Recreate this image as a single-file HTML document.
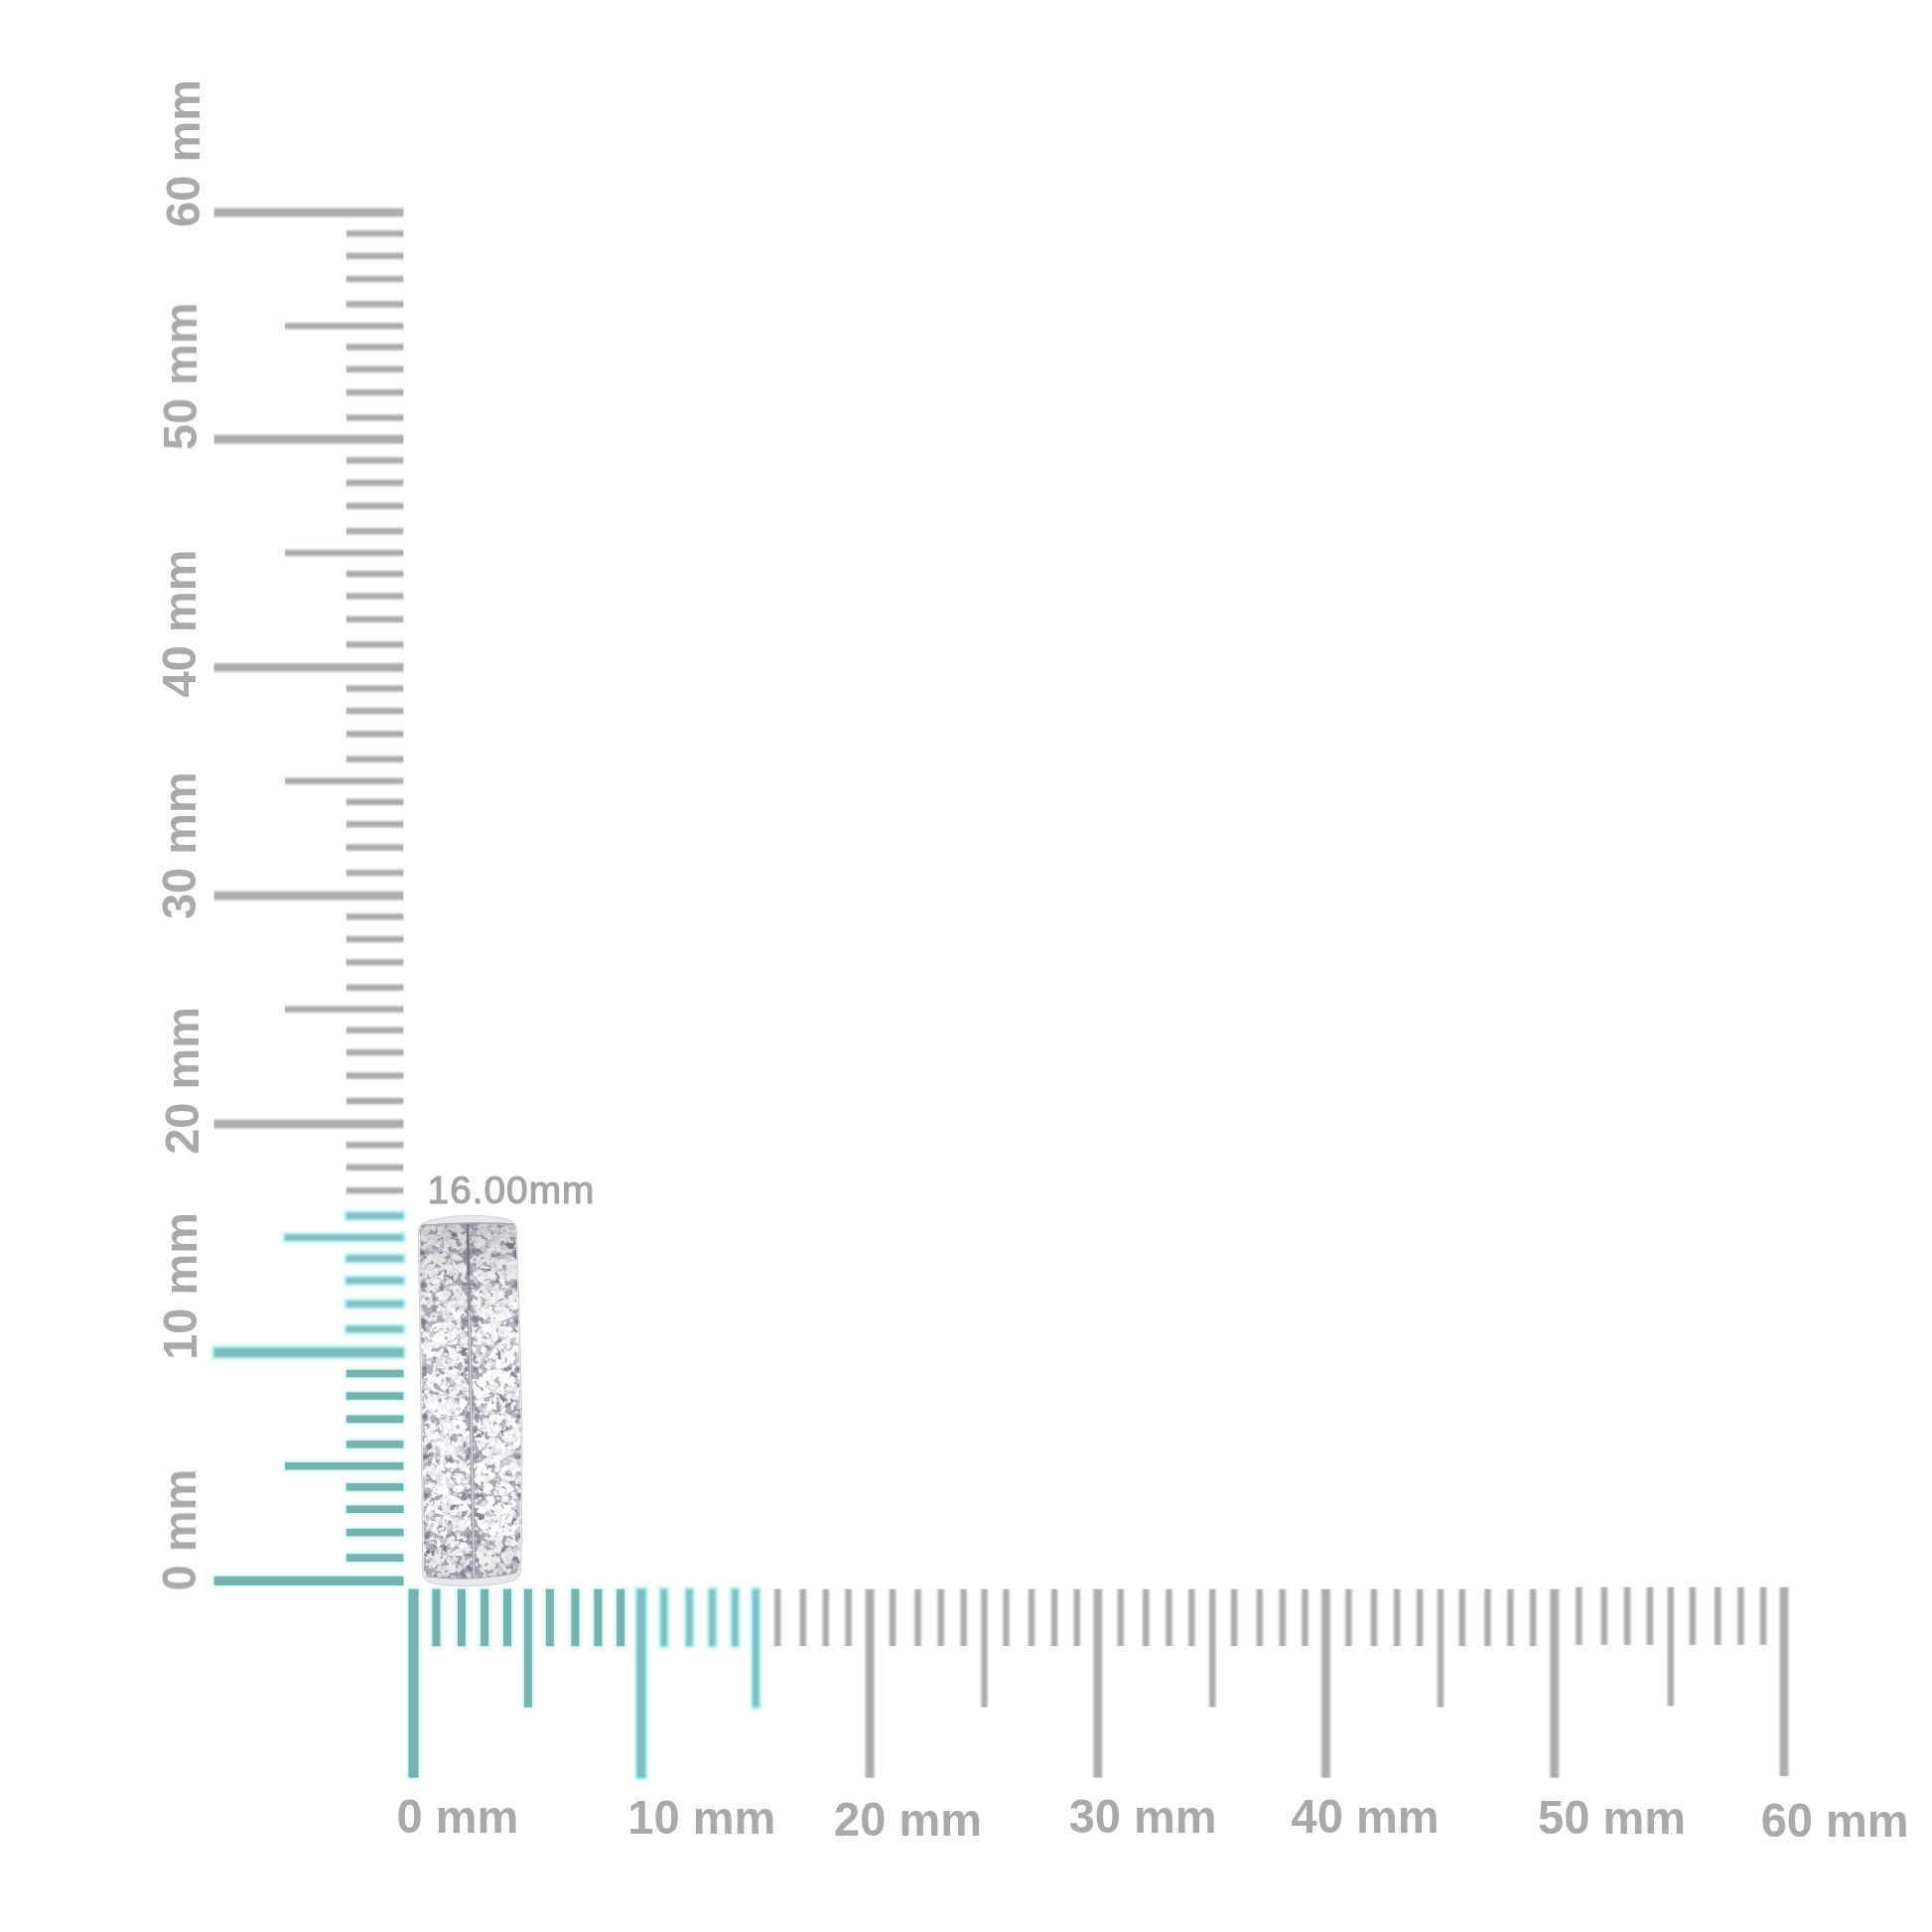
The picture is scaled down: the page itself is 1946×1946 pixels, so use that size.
<!DOCTYPE html>
<html><head><meta charset="utf-8"><title>16.00mm size guide</title>
<style>html,body{margin:0;padding:0;background:#fff}body{width:1946px;height:1946px;overflow:hidden;position:relative}svg{position:absolute;left:0;top:0;display:block}text{font-family:"Liberation Sans",sans-serif}</style></head><body>
<svg width="1946" height="1946" viewBox="0 0 1946 1946">
<defs>
<filter id="softv" x="-5%" y="-5%" width="110%" height="110%"><feGaussianBlur stdDeviation="0.6 1.0"/></filter>
<filter id="softh" x="-5%" y="-5%" width="110%" height="110%"><feGaussianBlur stdDeviation="1.0 0.6"/></filter>
<filter id="soft2" x="-5%" y="-5%" width="110%" height="110%"><feGaussianBlur stdDeviation="0.6"/></filter>
<filter id="soft3" x="-5%" y="-5%" width="110%" height="110%"><feGaussianBlur stdDeviation="0.95"/></filter>
<filter id="halo" x="-5%" y="-5%" width="110%" height="110%"><feGaussianBlur stdDeviation="1.5"/></filter>
<filter id="tsoft" x="-5%" y="-5%" width="110%" height="110%"><feGaussianBlur stdDeviation="0.55"/></filter>
<clipPath id="pclip"><path d="M 421.3 1242 Q 421.2 1234.4 427 1231.8 C 445 1222.5 500 1222.5 514 1229.6 Q 520 1231 520.5 1239 Q 523.5 1330 525.6 1420 Q 526.0 1520 524.8 1580 Q 524.4 1589 518 1591.5 C 500 1598.6 455 1598.6 436 1595 Q 427 1594 425.8 1585 Q 424.4 1420 421.3 1242 Z"/></clipPath>
<clipPath id="iclip"><path d="M 422.6 1240 Q 422.8 1234.6 428 1233.6 Q 472 1230.2 513 1232.4 Q 519 1233 519.4 1239 Q 522.4 1330 524.4 1420 Q 524.8 1520 523.6 1578 Q 523.2 1583.4 518 1584.6 Q 478 1593.6 436 1588.4 Q 428 1587.4 427.2 1582 Q 425.6 1420 422.6 1240 Z"/></clipPath>
<linearGradient id="pbase" x1="0" y1="0" x2="1" y2="0"><stop offset="0" stop-color="#e4e4e9"/><stop offset="0.06" stop-color="#b9b9c3"/><stop offset="0.5" stop-color="#adadb8"/><stop offset="0.94" stop-color="#b9b9c3"/><stop offset="1" stop-color="#e6e6ea"/></linearGradient>
<filter id="sparkle" x="0" y="0" width="100%" height="100%" color-interpolation-filters="sRGB"><feTurbulence type="fractalNoise" baseFrequency="0.2 0.19" numOctaves="2" seed="29" result="n2"/><feColorMatrix in="n2" type="matrix" values="0 0 0 0 0  0 0 0 0 0  0 0 0 0 0  0 2.8 0 0 -0.9" result="a2"/><feComponentTransfer in="a2" result="b2"><feFuncA type="discrete" tableValues="0 0 0 0 0 0.15 0.4 0.7 0.85 0.85"/></feComponentTransfer><feFlood flood-color="#ffffff" result="white"/><feComposite in="white" in2="b2" operator="in" result="lightspots"/><feTurbulence type="fractalNoise" baseFrequency="0.17 0.16" numOctaves="2" seed="5" result="n"/><feColorMatrix in="n" type="matrix" values="0 0 0 0 0  0 0 0 0 0  0 0 0 0 0  2.8 0 0 0 -0.9" result="a"/><feComponentTransfer in="a" result="b"><feFuncA type="discrete" tableValues="0.5 0.3 0.15 0.05 0 0 0 0 0 0"/></feComponentTransfer><feFlood flood-color="#666671" result="dark"/><feComposite in="dark" in2="b" operator="in" result="darkspots"/><feMerge><feMergeNode in="SourceGraphic"/><feMergeNode in="darkspots"/><feMergeNode in="lightspots"/></feMerge><feGaussianBlur stdDeviation="0.75"/></filter>
<linearGradient id="pshade" x1="0" y1="0" x2="0" y2="1"><stop offset="0" stop-color="#50505c" stop-opacity="0.26"/><stop offset="0.16" stop-color="#50505c" stop-opacity="0.08"/><stop offset="0.3" stop-color="#50505c" stop-opacity="0"/><stop offset="0.86" stop-color="#50505c" stop-opacity="0"/><stop offset="1" stop-color="#50505c" stop-opacity="0.14"/></linearGradient>
<filter id="pblur" x="-10%" y="-5%" width="120%" height="110%"><feGaussianBlur stdDeviation="0.7"/></filter>
<filter id="pblur2" x="-30%" y="-30%" width="160%" height="160%"><feGaussianBlur stdDeviation="1.2"/></filter>
</defs>
<rect width="1946" height="1946" fill="#ffffff"/>
<g filter="url(#softv)">
<rect x="348.8" y="1196.0" width="57.6" height="6.4" fill="#acacac"/>
<rect x="348.8" y="1172.7" width="57.6" height="6.4" fill="#acacac"/>
<rect x="348.8" y="1150.1" width="57.6" height="6.4" fill="#acacac"/>
<rect x="215.6" y="1127.7" width="190.8" height="8.8" fill="#acacac"/>
<rect x="348.8" y="1105.8" width="57.6" height="6.4" fill="#acacac"/>
<rect x="348.8" y="1080.3" width="57.6" height="6.4" fill="#acacac"/>
<rect x="348.8" y="1056.9" width="57.6" height="6.4" fill="#acacac"/>
<rect x="348.8" y="1034.5" width="57.6" height="6.4" fill="#acacac"/>
<rect x="287.1" y="1013.4" width="119.3" height="6.4" fill="#acacac"/>
<rect x="348.8" y="991.5" width="57.6" height="6.4" fill="#acacac"/>
<rect x="348.8" y="966.1" width="57.6" height="6.4" fill="#acacac"/>
<rect x="348.8" y="942.8" width="57.6" height="6.4" fill="#acacac"/>
<rect x="348.8" y="920.2" width="57.6" height="6.4" fill="#acacac"/>
<rect x="215.6" y="897.8" width="190.8" height="8.8" fill="#acacac"/>
<rect x="348.8" y="875.9" width="57.6" height="6.4" fill="#acacac"/>
<rect x="348.8" y="850.4" width="57.6" height="6.4" fill="#acacac"/>
<rect x="348.8" y="827.0" width="57.6" height="6.4" fill="#acacac"/>
<rect x="348.8" y="804.6" width="57.6" height="6.4" fill="#acacac"/>
<rect x="287.1" y="783.5" width="119.3" height="6.4" fill="#acacac"/>
<rect x="348.8" y="761.6" width="57.6" height="6.4" fill="#acacac"/>
<rect x="348.8" y="736.2" width="57.6" height="6.4" fill="#acacac"/>
<rect x="348.8" y="712.9" width="57.6" height="6.4" fill="#acacac"/>
<rect x="348.8" y="690.3" width="57.6" height="6.4" fill="#acacac"/>
<rect x="215.6" y="667.9" width="190.8" height="8.8" fill="#acacac"/>
<rect x="348.8" y="646.1" width="57.6" height="6.4" fill="#acacac"/>
<rect x="348.8" y="620.6" width="57.6" height="6.4" fill="#acacac"/>
<rect x="348.8" y="597.2" width="57.6" height="6.4" fill="#acacac"/>
<rect x="348.8" y="574.8" width="57.6" height="6.4" fill="#acacac"/>
<rect x="287.1" y="553.7" width="119.3" height="6.4" fill="#acacac"/>
<rect x="348.8" y="531.8" width="57.6" height="6.4" fill="#acacac"/>
<rect x="348.8" y="506.4" width="57.6" height="6.4" fill="#acacac"/>
<rect x="348.8" y="483.1" width="57.6" height="6.4" fill="#acacac"/>
<rect x="348.8" y="460.5" width="57.6" height="6.4" fill="#acacac"/>
<rect x="215.6" y="438.1" width="190.8" height="8.8" fill="#acacac"/>
<rect x="348.8" y="417.6" width="57.6" height="6.4" fill="#acacac"/>
<rect x="348.8" y="392.1" width="57.6" height="6.4" fill="#acacac"/>
<rect x="348.8" y="368.7" width="57.6" height="6.4" fill="#acacac"/>
<rect x="348.8" y="346.3" width="57.6" height="6.4" fill="#acacac"/>
<rect x="287.1" y="325.2" width="119.3" height="6.4" fill="#acacac"/>
<rect x="348.8" y="303.3" width="57.6" height="6.4" fill="#acacac"/>
<rect x="348.8" y="277.9" width="57.6" height="6.4" fill="#acacac"/>
<rect x="348.8" y="254.6" width="57.6" height="6.4" fill="#acacac"/>
<rect x="348.8" y="232.0" width="57.6" height="6.4" fill="#acacac"/>
<rect x="215.6" y="209.6" width="190.8" height="8.8" fill="#acacac"/>
</g>
<g filter="url(#softh)">
<rect x="780.0" y="1600.6" width="6.4" height="57.4" fill="#acacac"/>
<rect x="805.6" y="1600.6" width="6.4" height="57.4" fill="#acacac"/>
<rect x="828.6" y="1600.6" width="6.4" height="57.4" fill="#acacac"/>
<rect x="851.3" y="1600.6" width="6.4" height="57.4" fill="#acacac"/>
<rect x="871.7" y="1600.6" width="8.8" height="190.0" fill="#acacac"/>
<rect x="895.8" y="1600.6" width="6.4" height="57.4" fill="#acacac"/>
<rect x="921.3" y="1600.6" width="6.4" height="57.4" fill="#acacac"/>
<rect x="944.5" y="1600.6" width="6.4" height="57.4" fill="#acacac"/>
<rect x="967.4" y="1600.6" width="6.4" height="57.4" fill="#acacac"/>
<rect x="988.3" y="1600.6" width="6.4" height="119.0" fill="#acacac"/>
<rect x="1010.2" y="1600.6" width="6.4" height="57.4" fill="#acacac"/>
<rect x="1035.8" y="1600.6" width="6.4" height="57.4" fill="#acacac"/>
<rect x="1058.8" y="1600.6" width="6.4" height="57.4" fill="#acacac"/>
<rect x="1081.5" y="1600.6" width="6.4" height="57.4" fill="#acacac"/>
<rect x="1101.4" y="1600.6" width="8.8" height="190.0" fill="#acacac"/>
<rect x="1125.5" y="1600.6" width="6.4" height="57.4" fill="#acacac"/>
<rect x="1151.0" y="1600.6" width="6.4" height="57.4" fill="#acacac"/>
<rect x="1174.2" y="1600.6" width="6.4" height="57.4" fill="#acacac"/>
<rect x="1197.1" y="1600.6" width="6.4" height="57.4" fill="#acacac"/>
<rect x="1218.0" y="1600.6" width="6.4" height="119.0" fill="#acacac"/>
<rect x="1239.9" y="1600.6" width="6.4" height="57.4" fill="#acacac"/>
<rect x="1265.5" y="1600.6" width="6.4" height="57.4" fill="#acacac"/>
<rect x="1288.5" y="1600.6" width="6.4" height="57.4" fill="#acacac"/>
<rect x="1311.2" y="1600.6" width="6.4" height="57.4" fill="#acacac"/>
<rect x="1331.1" y="1600.6" width="8.8" height="190.0" fill="#acacac"/>
<rect x="1355.2" y="1600.6" width="6.4" height="57.4" fill="#acacac"/>
<rect x="1380.7" y="1600.6" width="6.4" height="57.4" fill="#acacac"/>
<rect x="1403.9" y="1600.6" width="6.4" height="57.4" fill="#acacac"/>
<rect x="1426.8" y="1600.6" width="6.4" height="57.4" fill="#acacac"/>
<rect x="1447.7" y="1600.6" width="6.4" height="119.0" fill="#acacac"/>
<rect x="1469.6" y="1600.6" width="6.4" height="57.4" fill="#acacac"/>
<rect x="1495.2" y="1600.6" width="6.4" height="57.4" fill="#acacac"/>
<rect x="1518.2" y="1600.6" width="6.4" height="57.4" fill="#acacac"/>
<rect x="1540.9" y="1600.6" width="6.4" height="57.4" fill="#acacac"/>
<rect x="1561.3" y="1600.6" width="8.8" height="190.0" fill="#acacac"/>
<rect x="1587.2" y="1598.6" width="6.4" height="58.2" fill="#acacac"/>
<rect x="1612.6" y="1598.6" width="6.4" height="58.2" fill="#acacac"/>
<rect x="1635.8" y="1598.6" width="6.4" height="58.2" fill="#acacac"/>
<rect x="1658.6" y="1598.6" width="6.4" height="58.2" fill="#acacac"/>
<rect x="1679.6" y="1598.6" width="6.4" height="119.8" fill="#acacac"/>
<rect x="1701.6" y="1598.6" width="6.4" height="58.2" fill="#acacac"/>
<rect x="1727.0" y="1598.6" width="6.4" height="58.2" fill="#acacac"/>
<rect x="1750.2" y="1598.6" width="6.4" height="58.2" fill="#acacac"/>
<rect x="1772.8" y="1598.6" width="6.4" height="58.2" fill="#acacac"/>
<rect x="1792.6" y="1598.6" width="8.8" height="190.3" fill="#acacac"/>
</g>
<g filter="url(#halo)">
<rect x="214.1" y="1586.2" width="193.8" height="12.2" fill="#cdf6f6"/>
<rect x="347.3" y="1563.8" width="60.6" height="10.6" fill="#cdf6f6"/>
<rect x="347.3" y="1538.3" width="60.6" height="10.6" fill="#cdf6f6"/>
<rect x="347.3" y="1514.9" width="60.6" height="10.6" fill="#cdf6f6"/>
<rect x="347.3" y="1492.5" width="60.6" height="10.6" fill="#cdf6f6"/>
<rect x="285.6" y="1471.4" width="122.3" height="10.6" fill="#cdf6f6"/>
<rect x="347.3" y="1449.5" width="60.6" height="10.6" fill="#cdf6f6"/>
<rect x="347.3" y="1424.1" width="60.6" height="10.6" fill="#cdf6f6"/>
<rect x="347.3" y="1400.8" width="60.6" height="10.6" fill="#cdf6f6"/>
<rect x="347.3" y="1378.2" width="60.6" height="10.6" fill="#cdf6f6"/>
<rect x="213.4" y="1355.5" width="195.2" height="13.6" fill="#b4f4f4"/>
<rect x="346.6" y="1333.5" width="62.0" height="10.8" fill="#b4f4f4"/>
<rect x="346.6" y="1308.0" width="62.0" height="10.8" fill="#b4f4f4"/>
<rect x="346.6" y="1284.6" width="62.0" height="10.8" fill="#b4f4f4"/>
<rect x="346.6" y="1262.2" width="62.0" height="10.8" fill="#b4f4f4"/>
<rect x="284.9" y="1241.1" width="123.7" height="10.8" fill="#b4f4f4"/>
<rect x="346.6" y="1219.2" width="62.0" height="10.8" fill="#b4f4f4"/>
<rect x="409.7" y="1598.8" width="13.6" height="193.6" fill="#cdf6f6"/>
<rect x="433.6" y="1598.8" width="11.6" height="61.0" fill="#cdf6f6"/>
<rect x="459.1" y="1598.8" width="11.6" height="61.0" fill="#cdf6f6"/>
<rect x="482.3" y="1598.8" width="11.6" height="61.0" fill="#cdf6f6"/>
<rect x="505.2" y="1598.8" width="11.6" height="61.0" fill="#cdf6f6"/>
<rect x="526.1" y="1598.8" width="11.6" height="122.6" fill="#cdf6f6"/>
<rect x="548.0" y="1598.8" width="11.6" height="61.0" fill="#cdf6f6"/>
<rect x="573.6" y="1598.8" width="11.6" height="61.0" fill="#cdf6f6"/>
<rect x="596.6" y="1598.8" width="11.6" height="61.0" fill="#cdf6f6"/>
<rect x="619.3" y="1598.8" width="11.6" height="61.0" fill="#cdf6f6"/>
<rect x="639.3" y="1598.4" width="13.2" height="194.4" fill="#b4f4f4"/>
<rect x="663.4" y="1598.4" width="10.8" height="61.8" fill="#b4f4f4"/>
<rect x="688.9" y="1598.4" width="10.8" height="61.8" fill="#b4f4f4"/>
<rect x="712.1" y="1598.4" width="10.8" height="61.8" fill="#b4f4f4"/>
<rect x="735.0" y="1598.4" width="10.8" height="61.8" fill="#b4f4f4"/>
<rect x="755.9" y="1598.4" width="10.8" height="123.4" fill="#b4f4f4"/>
</g>
<g filter="url(#soft2)">
<rect x="215.6" y="1587.7" width="190.8" height="9.2" fill="#78b2af"/>
<rect x="348.8" y="1565.3" width="57.6" height="7.6" fill="#78b2af"/>
<rect x="348.8" y="1539.8" width="57.6" height="7.6" fill="#78b2af"/>
<rect x="348.8" y="1516.4" width="57.6" height="7.6" fill="#78b2af"/>
<rect x="348.8" y="1494.0" width="57.6" height="7.6" fill="#78b2af"/>
<rect x="287.1" y="1472.9" width="119.3" height="7.6" fill="#78b2af"/>
<rect x="348.8" y="1451.0" width="57.6" height="7.6" fill="#78b2af"/>
<rect x="348.8" y="1425.6" width="57.6" height="7.6" fill="#78b2af"/>
<rect x="348.8" y="1402.3" width="57.6" height="7.6" fill="#78b2af"/>
<rect x="348.8" y="1379.7" width="57.6" height="7.6" fill="#78b2af"/>
<rect x="411.5" y="1600.6" width="10.0" height="190.0" fill="#78b2af"/>
<rect x="435.4" y="1600.6" width="8.0" height="57.4" fill="#78b2af"/>
<rect x="460.9" y="1600.6" width="8.0" height="57.4" fill="#78b2af"/>
<rect x="484.1" y="1600.6" width="8.0" height="57.4" fill="#78b2af"/>
<rect x="507.0" y="1600.6" width="8.0" height="57.4" fill="#78b2af"/>
<rect x="527.9" y="1600.6" width="8.0" height="119.0" fill="#78b2af"/>
<rect x="549.8" y="1600.6" width="8.0" height="57.4" fill="#78b2af"/>
<rect x="575.4" y="1600.6" width="8.0" height="57.4" fill="#78b2af"/>
<rect x="598.4" y="1600.6" width="8.0" height="57.4" fill="#78b2af"/>
<rect x="621.1" y="1600.6" width="8.0" height="57.4" fill="#78b2af"/>
</g>
<g filter="url(#soft3)">
<rect x="215.6" y="1357.7" width="190.8" height="9.2" fill="#7dbaba"/>
<rect x="348.8" y="1335.7" width="57.6" height="6.4" fill="#82bfc0"/>
<rect x="348.8" y="1310.2" width="57.6" height="6.4" fill="#82bfc0"/>
<rect x="348.8" y="1286.8" width="57.6" height="6.4" fill="#82bfc0"/>
<rect x="348.8" y="1264.4" width="57.6" height="6.4" fill="#82bfc0"/>
<rect x="287.1" y="1243.3" width="119.3" height="6.4" fill="#82bfc0"/>
<rect x="348.8" y="1221.4" width="57.6" height="6.4" fill="#82bfc0"/>
<rect x="641.5" y="1600.6" width="8.8" height="190.0" fill="#7dbaba"/>
<rect x="665.6" y="1600.6" width="6.4" height="57.4" fill="#82bfc0"/>
<rect x="691.1" y="1600.6" width="6.4" height="57.4" fill="#82bfc0"/>
<rect x="714.3" y="1600.6" width="6.4" height="57.4" fill="#82bfc0"/>
<rect x="737.2" y="1600.6" width="6.4" height="57.4" fill="#82bfc0"/>
<rect x="758.1" y="1600.6" width="6.4" height="119.0" fill="#82bfc0"/>
</g>
<g filter="url(#tsoft)" fill="#a9a9a9" font-weight="700" font-size="47">
<g transform="translate(200.5 228.9) rotate(-90)"><text transform="scale(1 1.03)">60</text><text x="65.33" transform="scale(1 1.0)">mm</text></g>
<g transform="translate(198.0 453.4) rotate(-90)"><text transform="scale(1 1.03)">50</text><text x="65.33" transform="scale(1 1.0)">mm</text></g>
<g transform="translate(197.0 702.4) rotate(-90)"><text transform="scale(1 1.03)">40</text><text x="65.33" transform="scale(1 1.0)">mm</text></g>
<g transform="translate(197.0 926.1) rotate(-90)"><text transform="scale(1 1.03)">30</text><text x="65.33" transform="scale(1 1.0)">mm</text></g>
<g transform="translate(200.0 1162.8) rotate(-90)"><text transform="scale(1 1.03)">20</text><text x="65.33" transform="scale(1 1.0)">mm</text></g>
<g transform="translate(198.0 1369.8) rotate(-90)"><text transform="scale(1 1.03)">10</text><text x="65.33" transform="scale(1 1.0)">mm</text></g>
<g transform="translate(197.0 1602.4) rotate(-90)"><text transform="scale(1 1.03)">0</text><text x="39.20" transform="scale(1 1.0)">mm</text></g>
<g transform="translate(399.5 1846.0)"><text transform="scale(1 1.03)">0</text><text x="39.20" transform="scale(1 1.0)">mm</text></g>
<g transform="translate(632.3 1847.0)"><text transform="scale(1 1.03)">10</text><text x="65.33" transform="scale(1 1.0)">mm</text></g>
<g transform="translate(840.1 1849.4)"><text transform="scale(1 1.03)">20</text><text x="65.33" transform="scale(1 1.0)">mm</text></g>
<g transform="translate(1076.7 1846.0)"><text transform="scale(1 1.03)">30</text><text x="65.33" transform="scale(1 1.0)">mm</text></g>
<g transform="translate(1300.6 1846.3)"><text transform="scale(1 1.03)">40</text><text x="65.33" transform="scale(1 1.0)">mm</text></g>
<g transform="translate(1549.1 1847.0)"><text transform="scale(1 1.03)">50</text><text x="65.33" transform="scale(1 1.0)">mm</text></g>
<g transform="translate(1773.7 1849.6)"><text transform="scale(1 1.03)">60</text><text x="65.33" transform="scale(1 1.0)">mm</text></g>
</g>
<g filter="url(#tsoft)"><text x="430.6" y="1212.3" font-size="38.8" fill="#a4a4a4" stroke="#a4a4a4" stroke-width="1.15" stroke-linejoin="round" letter-spacing="1.0">16.00mm</text></g>
<path d="M 421.3 1242 Q 421.2 1234.4 427 1231.8 C 445 1222.5 500 1222.5 514 1229.6 Q 520 1231 520.5 1239 Q 523.5 1330 525.6 1420 Q 526.0 1520 524.8 1580 Q 524.4 1589 518 1591.5 C 500 1598.6 455 1598.6 436 1595 Q 427 1594 425.8 1585 Q 424.4 1420 421.3 1242 Z" fill="#e8e8ec" filter="url(#pblur)"/>
<g clip-path="url(#pclip)">
<g clip-path="url(#iclip)">
<g filter="url(#sparkle)">
<path d="M 421.3 1242 Q 421.2 1234.4 427 1231.8 C 445 1222.5 500 1222.5 514 1229.6 Q 520 1231 520.5 1239 Q 523.5 1330 525.6 1420 Q 526.0 1520 524.8 1580 Q 524.4 1589 518 1591.5 C 500 1598.6 455 1598.6 436 1595 Q 427 1594 425.8 1585 Q 424.4 1420 421.3 1242 Z" fill="url(#pbase)"/>
<ellipse cx="446.6" cy="1246.0" rx="23.4" ry="17.6" fill="#c4c4cd"/>
<path d="M445.0 1256.1 L444.0 1263.0 L439.4 1262.7 L435.6 1260.9 L440.0 1254.9Z" fill="#e0e0e6"/>
<path d="M440.0 1254.9 L435.6 1260.9 L431.4 1259.4 L428.8 1256.6 L436.0 1252.3Z" fill="#e0e0e6"/>
<path d="M436.0 1252.3 L428.8 1256.6 L425.8 1254.0 L424.8 1250.7 L433.6 1248.8Z" fill="#ffffff"/>
<path d="M433.6 1248.8 L424.8 1250.7 L423.3 1247.4 L424.1 1244.0 L433.1 1244.8Z" fill="#ffffff"/>
<path d="M433.1 1244.8 L424.1 1244.0 L424.4 1240.6 L426.8 1237.7 L434.8 1241.0Z" fill="#f1f1f5"/>
<path d="M434.8 1241.0 L426.8 1237.7 L428.8 1234.6 L432.5 1232.6 L438.2 1238.0Z" fill="#ffffff"/>
<path d="M438.2 1238.0 L432.5 1232.6 L436.0 1230.3 L440.4 1229.6 L442.9 1236.2Z" fill="#c9c9d1"/>
<path d="M442.9 1236.2 L440.4 1229.6 L444.8 1228.5 L449.3 1229.0 L448.2 1235.9Z" fill="#e0e0e6"/>
<path d="M448.2 1235.9 L449.3 1229.0 L453.8 1229.3 L457.7 1231.1 L453.2 1237.1Z" fill="#e0e0e6"/>
<path d="M453.2 1237.1 L457.7 1231.1 L461.8 1232.6 L464.4 1235.4 L457.3 1239.7Z" fill="#f1f1f5"/>
<path d="M457.3 1239.7 L464.4 1235.4 L467.5 1238.0 L468.5 1241.3 L459.7 1243.2Z" fill="#e0e0e6"/>
<path d="M459.7 1243.2 L468.5 1241.3 L469.9 1244.6 L469.2 1248.0 L460.1 1247.2Z" fill="#ffffff"/>
<path d="M460.1 1247.2 L469.2 1248.0 L468.9 1251.4 L466.4 1254.3 L458.5 1251.0Z" fill="#f1f1f5"/>
<path d="M458.5 1251.0 L466.4 1254.3 L464.4 1257.4 L460.7 1259.4 L455.0 1254.0Z" fill="#ffffff"/>
<path d="M455.0 1254.0 L460.7 1259.4 L457.3 1261.7 L452.8 1262.4 L450.3 1255.8Z" fill="#adadb7"/>
<path d="M450.3 1255.8 L452.8 1262.4 L448.5 1263.5 L444.0 1263.0 L445.0 1256.1Z" fill="#ffffff"/>
<path d="M446.6 1246.0 L447.8 1256.9 L442.2 1256.4Z" fill="#c9c9d1"/>
<path d="M446.6 1246.0 L442.2 1256.4 L437.2 1254.3Z" fill="#ffffff"/>
<path d="M446.6 1246.0 L437.2 1254.3 L433.7 1251.0Z" fill="#e0e0e6"/>
<path d="M446.6 1246.0 L433.7 1251.0 L432.2 1246.9Z" fill="#f1f1f5"/>
<path d="M446.6 1246.0 L432.2 1246.9 L432.8 1242.6Z" fill="#f1f1f5"/>
<path d="M446.6 1246.0 L432.8 1242.6 L435.6 1238.9Z" fill="#c9c9d1"/>
<path d="M446.6 1246.0 L435.6 1238.9 L440.0 1236.3Z" fill="#ffffff"/>
<path d="M446.6 1246.0 L440.0 1236.3 L445.5 1235.1Z" fill="#ffffff"/>
<path d="M446.6 1246.0 L445.5 1235.1 L451.1 1235.6Z" fill="#adadb7"/>
<path d="M446.6 1246.0 L451.1 1235.6 L456.0 1237.7Z" fill="#f1f1f5"/>
<path d="M446.6 1246.0 L456.0 1237.7 L459.5 1241.0Z" fill="#ffffff"/>
<path d="M446.6 1246.0 L459.5 1241.0 L461.1 1245.1Z" fill="#878792"/>
<path d="M446.6 1246.0 L461.1 1245.1 L460.4 1249.4Z" fill="#adadb7"/>
<path d="M446.6 1246.0 L460.4 1249.4 L457.7 1253.1Z" fill="#ffffff"/>
<path d="M446.6 1246.0 L457.7 1253.1 L453.2 1255.7Z" fill="#f1f1f5"/>
<path d="M446.6 1246.0 L453.2 1255.7 L447.8 1256.9Z" fill="#ffffff"/>
<ellipse cx="498.0" cy="1246.0" rx="23.4" ry="17.6" fill="#c4c4cd"/>
<path d="M503.2 1255.4 L506.7 1261.8 L502.6 1263.3 L498.0 1263.1 L498.0 1256.2Z" fill="#e0e0e6"/>
<path d="M498.0 1256.2 L498.0 1263.1 L493.5 1263.3 L489.3 1261.8 L492.8 1255.4Z" fill="#ffffff"/>
<path d="M492.8 1255.4 L489.3 1261.8 L485.0 1260.6 L482.0 1258.1 L488.4 1253.2Z" fill="#e0e0e6"/>
<path d="M488.4 1253.2 L482.0 1258.1 L478.6 1255.8 L477.0 1252.5 L485.5 1249.9Z" fill="#ffffff"/>
<path d="M485.5 1249.9 L477.0 1252.5 L475.1 1249.4 L475.3 1246.0 L484.4 1246.0Z" fill="#ffffff"/>
<path d="M484.4 1246.0 L475.3 1246.0 L475.1 1242.6 L477.0 1239.5 L485.5 1242.1Z" fill="#c9c9d1"/>
<path d="M485.5 1242.1 L477.0 1239.5 L478.6 1236.2 L482.0 1233.9 L488.4 1238.8Z" fill="#f1f1f5"/>
<path d="M488.4 1238.8 L482.0 1233.9 L485.0 1231.4 L489.3 1230.2 L492.8 1236.6Z" fill="#f1f1f5"/>
<path d="M492.8 1236.6 L489.3 1230.2 L493.5 1228.7 L498.0 1228.9 L498.0 1235.8Z" fill="#e0e0e6"/>
<path d="M498.0 1235.8 L498.0 1228.9 L502.6 1228.7 L506.7 1230.2 L503.2 1236.6Z" fill="#f1f1f5"/>
<path d="M503.2 1236.6 L506.7 1230.2 L511.0 1231.4 L514.1 1233.9 L507.6 1238.8Z" fill="#f1f1f5"/>
<path d="M507.6 1238.8 L514.1 1233.9 L517.5 1236.2 L519.0 1239.5 L510.6 1242.1Z" fill="#ffffff"/>
<path d="M510.6 1242.1 L519.0 1239.5 L521.0 1242.6 L520.7 1246.0 L511.6 1246.0Z" fill="#e0e0e6"/>
<path d="M511.6 1246.0 L520.7 1246.0 L521.0 1249.4 L519.0 1252.5 L510.6 1249.9Z" fill="#adadb7"/>
<path d="M510.6 1249.9 L519.0 1252.5 L517.5 1255.8 L514.1 1258.1 L507.6 1253.2Z" fill="#878792"/>
<path d="M507.6 1253.2 L514.1 1258.1 L511.0 1260.6 L506.7 1261.8 L503.2 1255.4Z" fill="#e0e0e6"/>
<path d="M498.0 1246.0 L506.1 1255.1 L500.8 1256.7Z" fill="#f1f1f5"/>
<path d="M498.0 1246.0 L500.8 1256.7 L495.2 1256.7Z" fill="#f1f1f5"/>
<path d="M498.0 1246.0 L495.2 1256.7 L490.0 1255.1Z" fill="#e0e0e6"/>
<path d="M498.0 1246.0 L490.0 1255.1 L486.0 1252.1Z" fill="#e0e0e6"/>
<path d="M498.0 1246.0 L486.0 1252.1 L483.8 1248.1Z" fill="#ffffff"/>
<path d="M498.0 1246.0 L483.8 1248.1 L483.8 1243.9Z" fill="#ffffff"/>
<path d="M498.0 1246.0 L483.8 1243.9 L486.0 1239.9Z" fill="#f1f1f5"/>
<path d="M498.0 1246.0 L486.0 1239.9 L490.0 1236.9Z" fill="#f1f1f5"/>
<path d="M498.0 1246.0 L490.0 1236.9 L495.2 1235.3Z" fill="#c9c9d1"/>
<path d="M498.0 1246.0 L495.2 1235.3 L500.9 1235.3Z" fill="#f1f1f5"/>
<path d="M498.0 1246.0 L500.9 1235.3 L506.1 1236.9Z" fill="#ffffff"/>
<path d="M498.0 1246.0 L506.1 1236.9 L510.1 1239.9Z" fill="#c9c9d1"/>
<path d="M498.0 1246.0 L510.1 1239.9 L512.2 1243.9Z" fill="#f1f1f5"/>
<path d="M498.0 1246.0 L512.2 1243.9 L512.2 1248.1Z" fill="#f1f1f5"/>
<path d="M498.0 1246.0 L512.2 1248.1 L510.1 1252.1Z" fill="#ffffff"/>
<path d="M498.0 1246.0 L510.1 1252.1 L506.1 1255.1Z" fill="#f1f1f5"/>
<ellipse cx="447.1" cy="1278.0" rx="23.4" ry="17.6" fill="#c4c4cd"/>
<path d="M449.2 1288.1 L450.6 1294.9 L446.1 1295.6 L441.8 1294.6 L443.9 1287.9Z" fill="#c9c9d1"/>
<path d="M443.9 1287.9 L441.8 1294.6 L437.3 1294.0 L433.7 1291.8 L439.1 1286.2Z" fill="#ffffff"/>
<path d="M439.1 1286.2 L433.7 1291.8 L429.9 1289.9 L427.7 1286.9 L435.5 1283.3Z" fill="#f1f1f5"/>
<path d="M435.5 1283.3 L427.7 1286.9 L425.1 1284.1 L424.7 1280.6 L433.7 1279.6Z" fill="#ffffff"/>
<path d="M433.7 1279.6 L424.7 1280.6 L423.7 1277.3 L425.1 1274.0 L433.9 1275.6Z" fill="#e0e0e6"/>
<path d="M433.9 1275.6 L425.1 1274.0 L425.9 1270.6 L428.8 1267.9 L436.2 1272.0Z" fill="#ffffff"/>
<path d="M436.2 1272.0 L428.8 1267.9 L431.3 1265.0 L435.3 1263.4 L440.1 1269.3Z" fill="#ffffff"/>
<path d="M440.1 1269.3 L435.3 1263.4 L439.1 1261.5 L443.6 1261.1 L445.0 1267.9Z" fill="#f1f1f5"/>
<path d="M445.0 1267.9 L443.6 1261.1 L448.1 1260.4 L452.5 1261.4 L450.3 1268.1Z" fill="#e0e0e6"/>
<path d="M450.3 1268.1 L452.5 1261.4 L457.0 1262.0 L460.5 1264.2 L455.1 1269.8Z" fill="#ffffff"/>
<path d="M455.1 1269.8 L460.5 1264.2 L464.3 1266.1 L466.5 1269.1 L458.7 1272.7Z" fill="#f1f1f5"/>
<path d="M458.7 1272.7 L466.5 1269.1 L469.1 1271.9 L469.5 1275.4 L460.5 1276.4Z" fill="#ffffff"/>
<path d="M460.5 1276.4 L469.5 1275.4 L470.5 1278.7 L469.2 1282.0 L460.3 1280.4Z" fill="#ffffff"/>
<path d="M460.3 1280.4 L469.2 1282.0 L468.3 1285.4 L465.5 1288.1 L458.1 1284.0Z" fill="#f1f1f5"/>
<path d="M458.1 1284.0 L465.5 1288.1 L463.0 1291.0 L458.9 1292.6 L454.2 1286.7Z" fill="#adadb7"/>
<path d="M454.2 1286.7 L458.9 1292.6 L455.2 1294.5 L450.6 1294.9 L449.2 1288.1Z" fill="#f1f1f5"/>
<path d="M447.1 1278.0 L452.1 1288.2 L446.5 1288.9Z" fill="#adadb7"/>
<path d="M447.1 1278.0 L446.5 1288.9 L441.0 1287.9Z" fill="#ffffff"/>
<path d="M447.1 1278.0 L441.0 1287.9 L436.4 1285.4Z" fill="#adadb7"/>
<path d="M447.1 1278.0 L436.4 1285.4 L433.5 1281.8Z" fill="#f1f1f5"/>
<path d="M447.1 1278.0 L433.5 1281.8 L432.6 1277.5Z" fill="#ffffff"/>
<path d="M447.1 1278.0 L432.6 1277.5 L434.0 1273.4Z" fill="#e0e0e6"/>
<path d="M447.1 1278.0 L434.0 1273.4 L437.3 1270.0Z" fill="#adadb7"/>
<path d="M447.1 1278.0 L437.3 1270.0 L442.1 1267.8Z" fill="#ffffff"/>
<path d="M447.1 1278.0 L442.1 1267.8 L447.7 1267.1Z" fill="#ffffff"/>
<path d="M447.1 1278.0 L447.7 1267.1 L453.2 1268.1Z" fill="#c9c9d1"/>
<path d="M447.1 1278.0 L453.2 1268.1 L457.8 1270.6Z" fill="#f1f1f5"/>
<path d="M447.1 1278.0 L457.8 1270.6 L460.7 1274.2Z" fill="#ffffff"/>
<path d="M447.1 1278.0 L460.7 1274.2 L461.6 1278.5Z" fill="#ffffff"/>
<path d="M447.1 1278.0 L461.6 1278.5 L460.3 1282.6Z" fill="#ffffff"/>
<path d="M447.1 1278.0 L460.3 1282.6 L456.9 1286.0Z" fill="#e0e0e6"/>
<path d="M447.1 1278.0 L456.9 1286.0 L452.1 1288.2Z" fill="#878792"/>
<ellipse cx="498.5" cy="1278.0" rx="23.4" ry="17.6" fill="#c4c4cd"/>
<path d="M485.2 1276.1 L476.2 1274.7 L476.9 1271.3 L479.6 1268.6 L487.2 1272.4Z" fill="#f1f1f5"/>
<path d="M487.2 1272.4 L479.6 1268.6 L481.9 1265.6 L485.8 1263.9 L490.9 1269.5Z" fill="#ffffff"/>
<path d="M490.9 1269.5 L485.8 1263.9 L489.5 1261.8 L494.0 1261.3 L495.8 1268.0Z" fill="#f1f1f5"/>
<path d="M495.8 1268.0 L494.0 1261.3 L498.4 1260.4 L502.8 1261.2 L501.1 1268.0Z" fill="#c9c9d1"/>
<path d="M501.1 1268.0 L502.8 1261.2 L507.4 1261.7 L511.0 1263.8 L506.0 1269.5Z" fill="#c9c9d1"/>
<path d="M506.0 1269.5 L511.0 1263.8 L515.0 1265.5 L517.3 1268.4 L509.8 1272.3Z" fill="#e0e0e6"/>
<path d="M509.8 1272.3 L517.3 1268.4 L520.1 1271.2 L520.8 1274.6 L511.8 1276.0Z" fill="#ffffff"/>
<path d="M511.8 1276.0 L520.8 1274.6 L521.9 1277.9 L520.8 1281.3 L511.8 1279.9Z" fill="#f1f1f5"/>
<path d="M511.8 1279.9 L520.8 1281.3 L520.2 1284.7 L517.5 1287.4 L509.8 1283.6Z" fill="#f1f1f5"/>
<path d="M509.8 1283.6 L517.5 1287.4 L515.1 1290.4 L511.2 1292.1 L506.1 1286.5Z" fill="#e0e0e6"/>
<path d="M506.1 1286.5 L511.2 1292.1 L507.6 1294.2 L503.1 1294.7 L501.2 1288.0Z" fill="#ffffff"/>
<path d="M501.2 1288.0 L503.1 1294.7 L498.6 1295.6 L494.2 1294.8 L495.9 1288.0Z" fill="#adadb7"/>
<path d="M495.9 1288.0 L494.2 1294.8 L489.7 1294.3 L486.0 1292.2 L491.0 1286.5Z" fill="#c9c9d1"/>
<path d="M491.0 1286.5 L486.0 1292.2 L482.1 1290.5 L479.7 1287.6 L487.3 1283.7Z" fill="#ffffff"/>
<path d="M487.3 1283.7 L479.7 1287.6 L476.9 1284.8 L476.3 1281.4 L485.2 1280.0Z" fill="#ffffff"/>
<path d="M485.2 1280.0 L476.3 1281.4 L475.1 1278.1 L476.2 1274.7 L485.2 1276.1Z" fill="#c9c9d1"/>
<path d="M498.5 1278.0 L484.0 1278.1 L485.1 1273.9Z" fill="#ffffff"/>
<path d="M498.5 1278.0 L485.1 1273.9 L488.2 1270.3Z" fill="#adadb7"/>
<path d="M498.5 1278.0 L488.2 1270.3 L492.9 1267.9Z" fill="#f1f1f5"/>
<path d="M498.5 1278.0 L492.9 1267.9 L498.5 1267.1Z" fill="#e0e0e6"/>
<path d="M498.5 1278.0 L498.5 1267.1 L504.0 1267.9Z" fill="#e0e0e6"/>
<path d="M498.5 1278.0 L504.0 1267.9 L508.7 1270.2Z" fill="#ffffff"/>
<path d="M498.5 1278.0 L508.7 1270.2 L511.9 1273.8Z" fill="#ffffff"/>
<path d="M498.5 1278.0 L511.9 1273.8 L513.0 1277.9Z" fill="#ffffff"/>
<path d="M498.5 1278.0 L513.0 1277.9 L511.9 1282.1Z" fill="#e0e0e6"/>
<path d="M498.5 1278.0 L511.9 1282.1 L508.8 1285.7Z" fill="#e0e0e6"/>
<path d="M498.5 1278.0 L508.8 1285.7 L504.1 1288.1Z" fill="#ffffff"/>
<path d="M498.5 1278.0 L504.1 1288.1 L498.6 1288.9Z" fill="#c9c9d1"/>
<path d="M498.5 1278.0 L498.6 1288.9 L493.0 1288.1Z" fill="#f1f1f5"/>
<path d="M498.5 1278.0 L493.0 1288.1 L488.3 1285.8Z" fill="#ffffff"/>
<path d="M498.5 1278.0 L488.3 1285.8 L485.1 1282.2Z" fill="#f1f1f5"/>
<path d="M498.5 1278.0 L485.1 1282.2 L484.0 1278.1Z" fill="#878792"/>
<ellipse cx="447.7" cy="1312.0" rx="23.4" ry="19.6" fill="#c4c4cd"/>
<path d="M442.6 1322.5 L439.1 1329.6 L434.8 1328.4 L431.7 1325.6 L438.1 1320.1Z" fill="#e0e0e6"/>
<path d="M438.1 1320.1 L431.7 1325.6 L428.3 1323.0 L426.8 1319.4 L435.2 1316.4Z" fill="#adadb7"/>
<path d="M435.2 1316.4 L426.8 1319.4 L424.7 1316.0 L425.0 1312.2 L434.1 1312.1Z" fill="#adadb7"/>
<path d="M434.1 1312.1 L425.0 1312.2 L424.7 1308.3 L426.6 1304.9 L435.1 1307.7Z" fill="#e0e0e6"/>
<path d="M435.1 1307.7 L426.6 1304.9 L428.1 1301.2 L431.5 1298.7 L438.0 1304.0Z" fill="#f1f1f5"/>
<path d="M438.0 1304.0 L431.5 1298.7 L434.5 1295.8 L438.8 1294.5 L442.4 1301.5Z" fill="#e0e0e6"/>
<path d="M442.4 1301.5 L438.8 1294.5 L442.9 1292.8 L447.5 1293.0 L447.5 1300.6Z" fill="#adadb7"/>
<path d="M447.5 1300.6 L447.5 1293.0 L452.0 1292.7 L456.2 1294.4 L452.7 1301.5Z" fill="#c9c9d1"/>
<path d="M452.7 1301.5 L456.2 1294.4 L460.5 1295.6 L463.6 1298.4 L457.2 1303.9Z" fill="#e0e0e6"/>
<path d="M457.2 1303.9 L463.6 1298.4 L467.0 1301.0 L468.6 1304.6 L460.1 1307.6Z" fill="#f1f1f5"/>
<path d="M460.1 1307.6 L468.6 1304.6 L470.6 1308.0 L470.3 1311.8 L461.2 1311.9Z" fill="#f1f1f5"/>
<path d="M461.2 1311.9 L470.3 1311.8 L470.6 1315.7 L468.7 1319.1 L460.2 1316.3Z" fill="#e0e0e6"/>
<path d="M460.2 1316.3 L468.7 1319.1 L467.2 1322.8 L463.8 1325.3 L457.3 1320.0Z" fill="#f1f1f5"/>
<path d="M457.3 1320.0 L463.8 1325.3 L460.8 1328.2 L456.5 1329.5 L452.9 1322.5Z" fill="#ffffff"/>
<path d="M452.9 1322.5 L456.5 1329.5 L452.4 1331.2 L447.8 1331.0 L447.8 1323.4Z" fill="#e0e0e6"/>
<path d="M447.8 1323.4 L447.8 1331.0 L443.3 1331.3 L439.1 1329.6 L442.6 1322.5Z" fill="#adadb7"/>
<path d="M447.7 1312.0 L444.9 1323.9 L439.7 1322.2Z" fill="#c9c9d1"/>
<path d="M447.7 1312.0 L439.7 1322.2 L435.7 1318.8Z" fill="#c9c9d1"/>
<path d="M447.7 1312.0 L435.7 1318.8 L433.4 1314.5Z" fill="#adadb7"/>
<path d="M447.7 1312.0 L433.4 1314.5 L433.4 1309.7Z" fill="#f1f1f5"/>
<path d="M447.7 1312.0 L433.4 1309.7 L435.5 1305.3Z" fill="#c9c9d1"/>
<path d="M447.7 1312.0 L435.5 1305.3 L439.5 1302.0Z" fill="#f1f1f5"/>
<path d="M447.7 1312.0 L439.5 1302.0 L444.7 1300.1Z" fill="#ffffff"/>
<path d="M447.7 1312.0 L444.7 1300.1 L450.4 1300.1Z" fill="#f1f1f5"/>
<path d="M447.7 1312.0 L450.4 1300.1 L455.6 1301.8Z" fill="#f1f1f5"/>
<path d="M447.7 1312.0 L455.6 1301.8 L459.6 1305.2Z" fill="#adadb7"/>
<path d="M447.7 1312.0 L459.6 1305.2 L461.9 1309.5Z" fill="#e0e0e6"/>
<path d="M447.7 1312.0 L461.9 1309.5 L461.9 1314.3Z" fill="#f1f1f5"/>
<path d="M447.7 1312.0 L461.9 1314.3 L459.8 1318.7Z" fill="#e0e0e6"/>
<path d="M447.7 1312.0 L459.8 1318.7 L455.8 1322.0Z" fill="#ffffff"/>
<path d="M447.7 1312.0 L455.8 1322.0 L450.6 1323.9Z" fill="#f1f1f5"/>
<path d="M447.7 1312.0 L450.6 1323.9 L444.9 1323.9Z" fill="#e0e0e6"/>
<ellipse cx="499.1" cy="1312.0" rx="23.4" ry="19.6" fill="#c4c4cd"/>
<path d="M500.9 1323.3 L502.1 1330.8 L497.6 1331.6 L493.3 1330.4 L495.6 1323.0Z" fill="#ffffff"/>
<path d="M495.6 1323.0 L493.3 1330.4 L488.8 1329.6 L485.3 1327.1 L490.8 1321.1Z" fill="#f1f1f5"/>
<path d="M490.8 1321.1 L485.3 1327.1 L481.5 1325.0 L479.5 1321.6 L487.3 1317.7Z" fill="#f1f1f5"/>
<path d="M487.3 1317.7 L479.5 1321.6 L476.9 1318.4 L476.6 1314.6 L485.6 1313.5Z" fill="#e0e0e6"/>
<path d="M485.6 1313.5 L476.6 1314.6 L475.7 1310.8 L477.1 1307.2 L485.9 1309.1Z" fill="#ffffff"/>
<path d="M485.9 1309.1 L477.1 1307.2 L478.0 1303.4 L481.0 1300.5 L488.2 1305.1Z" fill="#ffffff"/>
<path d="M488.2 1305.1 L481.0 1300.5 L483.5 1297.3 L487.6 1295.6 L492.2 1302.2Z" fill="#f1f1f5"/>
<path d="M492.2 1302.2 L487.6 1295.6 L491.4 1293.5 L496.0 1293.2 L497.2 1300.7Z" fill="#e0e0e6"/>
<path d="M497.2 1300.7 L496.0 1293.2 L500.5 1292.4 L504.8 1293.6 L502.5 1301.0Z" fill="#e0e0e6"/>
<path d="M502.5 1301.0 L504.8 1293.6 L509.3 1294.4 L512.8 1296.9 L507.3 1302.9Z" fill="#e0e0e6"/>
<path d="M507.3 1302.9 L512.8 1296.9 L516.6 1299.0 L518.6 1302.4 L510.8 1306.3Z" fill="#adadb7"/>
<path d="M510.8 1306.3 L518.6 1302.4 L521.2 1305.6 L521.5 1309.4 L512.5 1310.5Z" fill="#f1f1f5"/>
<path d="M512.5 1310.5 L521.5 1309.4 L522.4 1313.2 L521.0 1316.8 L512.2 1314.9Z" fill="#ffffff"/>
<path d="M512.2 1314.9 L521.0 1316.8 L520.1 1320.6 L517.1 1323.5 L509.9 1318.9Z" fill="#f1f1f5"/>
<path d="M509.9 1318.9 L517.1 1323.5 L514.6 1326.7 L510.5 1328.4 L505.9 1321.8Z" fill="#f1f1f5"/>
<path d="M505.9 1321.8 L510.5 1328.4 L506.7 1330.5 L502.1 1330.8 L500.9 1323.3Z" fill="#ffffff"/>
<path d="M499.1 1312.0 L503.8 1323.5 L498.2 1324.1Z" fill="#e0e0e6"/>
<path d="M499.1 1312.0 L498.2 1324.1 L492.7 1322.9Z" fill="#f1f1f5"/>
<path d="M499.1 1312.0 L492.7 1322.9 L488.2 1320.1Z" fill="#ffffff"/>
<path d="M499.1 1312.0 L488.2 1320.1 L485.3 1316.0Z" fill="#f1f1f5"/>
<path d="M499.1 1312.0 L485.3 1316.0 L484.6 1311.3Z" fill="#adadb7"/>
<path d="M499.1 1312.0 L484.6 1311.3 L486.0 1306.7Z" fill="#ffffff"/>
<path d="M499.1 1312.0 L486.0 1306.7 L489.4 1302.9Z" fill="#f1f1f5"/>
<path d="M499.1 1312.0 L489.4 1302.9 L494.3 1300.5Z" fill="#ffffff"/>
<path d="M499.1 1312.0 L494.3 1300.5 L499.9 1299.9Z" fill="#ffffff"/>
<path d="M499.1 1312.0 L499.9 1299.9 L505.4 1301.1Z" fill="#f1f1f5"/>
<path d="M499.1 1312.0 L505.4 1301.1 L509.9 1303.9Z" fill="#ffffff"/>
<path d="M499.1 1312.0 L509.9 1303.9 L512.8 1308.0Z" fill="#adadb7"/>
<path d="M499.1 1312.0 L512.8 1308.0 L513.5 1312.7Z" fill="#f1f1f5"/>
<path d="M499.1 1312.0 L513.5 1312.7 L512.1 1317.3Z" fill="#e0e0e6"/>
<path d="M499.1 1312.0 L512.1 1317.3 L508.7 1321.1Z" fill="#ffffff"/>
<path d="M499.1 1312.0 L508.7 1321.1 L503.8 1323.5Z" fill="#f1f1f5"/>
<ellipse cx="448.3" cy="1355.0" rx="23.4" ry="24.1" fill="#c4c4cd"/>
<path d="M441.5 1367.1 L436.8 1375.2 L432.8 1373.0 L430.2 1369.1 L437.5 1363.4Z" fill="#c9c9d1"/>
<path d="M437.5 1363.4 L430.2 1369.1 L427.3 1365.5 L426.4 1360.9 L435.2 1358.5Z" fill="#ffffff"/>
<path d="M435.2 1358.5 L426.4 1360.9 L425.0 1356.4 L425.8 1351.8 L434.9 1353.1Z" fill="#f1f1f5"/>
<path d="M434.9 1353.1 L425.8 1351.8 L426.2 1347.1 L428.8 1343.2 L436.6 1347.9Z" fill="#c9c9d1"/>
<path d="M436.6 1347.9 L428.8 1343.2 L430.8 1339.0 L434.6 1336.3 L440.1 1343.8Z" fill="#c9c9d1"/>
<path d="M440.1 1343.8 L434.6 1336.3 L438.1 1333.3 L442.6 1332.4 L444.9 1341.5Z" fill="#ffffff"/>
<path d="M444.9 1341.5 L442.6 1332.4 L447.0 1330.9 L451.5 1331.8 L450.2 1341.2Z" fill="#f1f1f5"/>
<path d="M450.2 1341.2 L451.5 1331.8 L456.0 1332.2 L459.8 1334.8 L455.2 1342.9Z" fill="#e0e0e6"/>
<path d="M455.2 1342.9 L459.8 1334.8 L463.9 1337.0 L466.4 1340.9 L459.2 1346.6Z" fill="#f1f1f5"/>
<path d="M459.2 1346.6 L466.4 1340.9 L469.4 1344.5 L470.3 1349.1 L461.5 1351.5Z" fill="#e0e0e6"/>
<path d="M461.5 1351.5 L470.3 1349.1 L471.7 1353.6 L470.8 1358.2 L461.8 1356.9Z" fill="#e0e0e6"/>
<path d="M461.8 1356.9 L470.8 1358.2 L470.4 1362.9 L467.9 1366.8 L460.0 1362.1Z" fill="#878792"/>
<path d="M460.0 1362.1 L467.9 1366.8 L465.8 1371.0 L462.0 1373.7 L456.5 1366.2Z" fill="#f1f1f5"/>
<path d="M456.5 1366.2 L462.0 1373.7 L458.5 1376.7 L454.0 1377.6 L451.7 1368.5Z" fill="#e0e0e6"/>
<path d="M451.7 1368.5 L454.0 1377.6 L449.7 1379.1 L445.2 1378.2 L446.5 1368.8Z" fill="#f1f1f5"/>
<path d="M446.5 1368.8 L445.2 1378.2 L440.6 1377.8 L436.8 1375.2 L441.5 1367.1Z" fill="#e0e0e6"/>
<path d="M448.3 1355.0 L443.6 1369.1 L438.7 1366.2Z" fill="#f1f1f5"/>
<path d="M448.3 1355.0 L438.7 1366.2 L435.3 1361.5Z" fill="#f1f1f5"/>
<path d="M448.3 1355.0 L435.3 1361.5 L433.8 1355.9Z" fill="#f1f1f5"/>
<path d="M448.3 1355.0 L433.8 1355.9 L434.6 1350.1Z" fill="#f1f1f5"/>
<path d="M448.3 1355.0 L434.6 1350.1 L437.5 1345.1Z" fill="#ffffff"/>
<path d="M448.3 1355.0 L437.5 1345.1 L442.0 1341.6Z" fill="#ffffff"/>
<path d="M448.3 1355.0 L442.0 1341.6 L447.5 1340.1Z" fill="#f1f1f5"/>
<path d="M448.3 1355.0 L447.5 1340.1 L453.1 1340.9Z" fill="#ffffff"/>
<path d="M448.3 1355.0 L453.1 1340.9 L458.0 1343.8Z" fill="#ffffff"/>
<path d="M448.3 1355.0 L458.0 1343.8 L461.4 1348.5Z" fill="#c9c9d1"/>
<path d="M448.3 1355.0 L461.4 1348.5 L462.8 1354.1Z" fill="#ffffff"/>
<path d="M448.3 1355.0 L462.8 1354.1 L462.0 1359.9Z" fill="#adadb7"/>
<path d="M448.3 1355.0 L462.0 1359.9 L459.2 1364.9Z" fill="#e0e0e6"/>
<path d="M448.3 1355.0 L459.2 1364.9 L454.6 1368.4Z" fill="#f1f1f5"/>
<path d="M448.3 1355.0 L454.6 1368.4 L449.2 1369.9Z" fill="#c9c9d1"/>
<path d="M448.3 1355.0 L449.2 1369.9 L443.6 1369.1Z" fill="#c9c9d1"/>
<ellipse cx="499.7" cy="1355.0" rx="23.4" ry="24.1" fill="#c4c4cd"/>
<path d="M504.6 1368.1 L507.8 1376.8 L503.7 1378.8 L499.1 1378.4 L499.4 1369.0Z" fill="#ffffff"/>
<path d="M499.4 1369.0 L499.1 1378.4 L494.6 1378.5 L490.5 1376.4 L494.2 1367.8Z" fill="#e0e0e6"/>
<path d="M494.2 1367.8 L490.5 1376.4 L486.2 1374.7 L483.3 1371.1 L489.9 1364.6Z" fill="#c9c9d1"/>
<path d="M489.9 1364.6 L483.3 1371.1 L479.9 1367.9 L478.5 1363.4 L487.1 1360.0Z" fill="#e0e0e6"/>
<path d="M487.1 1360.0 L478.5 1363.4 L476.7 1359.1 L477.0 1354.4 L486.2 1354.6Z" fill="#c9c9d1"/>
<path d="M486.2 1354.6 L477.0 1354.4 L476.9 1349.7 L479.0 1345.5 L487.3 1349.3Z" fill="#f1f1f5"/>
<path d="M487.3 1349.3 L479.0 1345.5 L480.6 1341.1 L484.1 1338.0 L490.4 1344.9Z" fill="#e0e0e6"/>
<path d="M490.4 1344.9 L484.1 1338.0 L487.2 1334.6 L491.6 1333.2 L494.9 1341.9Z" fill="#ffffff"/>
<path d="M494.9 1341.9 L491.6 1333.2 L495.8 1331.2 L500.3 1331.6 L500.1 1341.0Z" fill="#f1f1f5"/>
<path d="M500.1 1341.0 L500.3 1331.6 L504.9 1331.5 L509.0 1333.6 L505.2 1342.2Z" fill="#f1f1f5"/>
<path d="M505.2 1342.2 L509.0 1333.6 L513.2 1335.3 L516.2 1338.9 L509.6 1345.4Z" fill="#f1f1f5"/>
<path d="M509.6 1345.4 L516.2 1338.9 L519.5 1342.1 L520.9 1346.6 L512.4 1350.0Z" fill="#f1f1f5"/>
<path d="M512.4 1350.0 L520.9 1346.6 L522.8 1350.9 L522.4 1355.6 L513.3 1355.4Z" fill="#c9c9d1"/>
<path d="M513.3 1355.4 L522.4 1355.6 L522.5 1360.3 L520.5 1364.5 L512.1 1360.7Z" fill="#ffffff"/>
<path d="M512.1 1360.7 L520.5 1364.5 L518.8 1368.9 L515.3 1372.0 L509.1 1365.1Z" fill="#ffffff"/>
<path d="M509.1 1365.1 L515.3 1372.0 L512.2 1375.4 L507.8 1376.8 L504.6 1368.1Z" fill="#ffffff"/>
<path d="M499.7 1355.0 L507.5 1367.6 L502.2 1369.7Z" fill="#878792"/>
<path d="M499.7 1355.0 L502.2 1369.7 L496.5 1369.6Z" fill="#f1f1f5"/>
<path d="M499.7 1355.0 L496.5 1369.6 L491.3 1367.2Z" fill="#ffffff"/>
<path d="M499.7 1355.0 L491.3 1367.2 L487.5 1363.0Z" fill="#c9c9d1"/>
<path d="M499.7 1355.0 L487.5 1363.0 L485.4 1357.5Z" fill="#c9c9d1"/>
<path d="M499.7 1355.0 L485.4 1357.5 L485.6 1351.7Z" fill="#c9c9d1"/>
<path d="M499.7 1355.0 L485.6 1351.7 L487.9 1346.4Z" fill="#f1f1f5"/>
<path d="M499.7 1355.0 L487.9 1346.4 L492.0 1342.4Z" fill="#e0e0e6"/>
<path d="M499.7 1355.0 L492.0 1342.4 L497.3 1340.3Z" fill="#f1f1f5"/>
<path d="M499.7 1355.0 L497.3 1340.3 L502.9 1340.4Z" fill="#ffffff"/>
<path d="M499.7 1355.0 L502.9 1340.4 L508.1 1342.8Z" fill="#c9c9d1"/>
<path d="M499.7 1355.0 L508.1 1342.8 L512.0 1347.0Z" fill="#c9c9d1"/>
<path d="M499.7 1355.0 L512.0 1347.0 L514.0 1352.5Z" fill="#ffffff"/>
<path d="M499.7 1355.0 L514.0 1352.5 L513.9 1358.3Z" fill="#c9c9d1"/>
<path d="M499.7 1355.0 L513.9 1358.3 L511.6 1363.6Z" fill="#ffffff"/>
<path d="M499.7 1355.0 L511.6 1363.6 L507.5 1367.6Z" fill="#f1f1f5"/>
<ellipse cx="449.1" cy="1404.0" rx="23.4" ry="25.1" fill="#c4c4cd"/>
<path d="M462.3 1407.4 L471.2 1409.7 L470.3 1414.5 L467.4 1418.3 L460.1 1412.6Z" fill="#ffffff"/>
<path d="M460.1 1412.6 L467.4 1418.3 L464.9 1422.5 L460.9 1424.8 L456.2 1416.4Z" fill="#ffffff"/>
<path d="M456.2 1416.4 L460.9 1424.8 L457.2 1427.6 L452.6 1428.1 L451.2 1418.4Z" fill="#e0e0e6"/>
<path d="M451.2 1418.4 L452.6 1428.1 L448.1 1429.1 L443.8 1427.7 L445.9 1418.2Z" fill="#ffffff"/>
<path d="M445.9 1418.2 L443.8 1427.7 L439.3 1426.8 L435.7 1423.7 L441.1 1415.8Z" fill="#ffffff"/>
<path d="M441.1 1415.8 L435.7 1423.7 L431.9 1421.0 L429.7 1416.7 L437.5 1411.6Z" fill="#ffffff"/>
<path d="M437.5 1411.6 L429.7 1416.7 L427.1 1412.7 L426.7 1407.8 L435.7 1406.3Z" fill="#f1f1f5"/>
<path d="M435.7 1406.3 L426.7 1407.8 L425.7 1403.0 L427.0 1398.3 L435.9 1400.6Z" fill="#c9c9d1"/>
<path d="M435.9 1400.6 L427.0 1398.3 L427.9 1393.5 L430.7 1389.7 L438.1 1395.4Z" fill="#e0e0e6"/>
<path d="M438.1 1395.4 L430.7 1389.7 L433.2 1385.5 L437.3 1383.2 L442.0 1391.6Z" fill="#ffffff"/>
<path d="M442.0 1391.6 L437.3 1383.2 L441.0 1380.4 L445.6 1379.9 L447.0 1389.6Z" fill="#e0e0e6"/>
<path d="M447.0 1389.6 L445.6 1379.9 L450.0 1378.9 L454.4 1380.3 L452.3 1389.8Z" fill="#f1f1f5"/>
<path d="M452.3 1389.8 L454.4 1380.3 L458.9 1381.2 L462.5 1384.3 L457.1 1392.2Z" fill="#f1f1f5"/>
<path d="M457.1 1392.2 L462.5 1384.3 L466.3 1387.0 L468.5 1391.3 L460.7 1396.4Z" fill="#f1f1f5"/>
<path d="M460.7 1396.4 L468.5 1391.3 L471.1 1395.3 L471.5 1400.2 L462.5 1401.7Z" fill="#e0e0e6"/>
<path d="M462.5 1401.7 L471.5 1400.2 L472.5 1405.0 L471.2 1409.7 L462.3 1407.4Z" fill="#c9c9d1"/>
<path d="M449.1 1404.0 L463.6 1404.6 L462.3 1410.5Z" fill="#f1f1f5"/>
<path d="M449.1 1404.0 L462.3 1410.5 L458.9 1415.4Z" fill="#e0e0e6"/>
<path d="M449.1 1404.0 L458.9 1415.4 L454.1 1418.6Z" fill="#f1f1f5"/>
<path d="M449.1 1404.0 L454.1 1418.6 L448.5 1419.5Z" fill="#e0e0e6"/>
<path d="M449.1 1404.0 L448.5 1419.5 L443.0 1418.1Z" fill="#f1f1f5"/>
<path d="M449.1 1404.0 L443.0 1418.1 L438.4 1414.5Z" fill="#f1f1f5"/>
<path d="M449.1 1404.0 L438.4 1414.5 L435.5 1409.4Z" fill="#f1f1f5"/>
<path d="M449.1 1404.0 L435.5 1409.4 L434.6 1403.4Z" fill="#e0e0e6"/>
<path d="M449.1 1404.0 L434.6 1403.4 L435.9 1397.5Z" fill="#ffffff"/>
<path d="M449.1 1404.0 L435.9 1397.5 L439.3 1392.6Z" fill="#adadb7"/>
<path d="M449.1 1404.0 L439.3 1392.6 L444.1 1389.4Z" fill="#f1f1f5"/>
<path d="M449.1 1404.0 L444.1 1389.4 L449.7 1388.5Z" fill="#c9c9d1"/>
<path d="M449.1 1404.0 L449.7 1388.5 L455.2 1389.9Z" fill="#e0e0e6"/>
<path d="M449.1 1404.0 L455.2 1389.9 L459.8 1393.5Z" fill="#adadb7"/>
<path d="M449.1 1404.0 L459.8 1393.5 L462.7 1398.6Z" fill="#e0e0e6"/>
<path d="M449.1 1404.0 L462.7 1398.6 L463.6 1404.6Z" fill="#f1f1f5"/>
<ellipse cx="500.5" cy="1404.0" rx="23.4" ry="25.1" fill="#c4c4cd"/>
<path d="M501.8 1418.5 L502.7 1428.2 L498.2 1429.0 L493.9 1427.3 L496.6 1417.9Z" fill="#e0e0e6"/>
<path d="M496.6 1417.9 L493.9 1427.3 L489.5 1426.2 L486.1 1422.8 L491.9 1415.3Z" fill="#e0e0e6"/>
<path d="M491.9 1415.3 L486.1 1422.8 L482.4 1419.9 L480.5 1415.5 L488.5 1410.9Z" fill="#c9c9d1"/>
<path d="M488.5 1410.9 L480.5 1415.5 L478.1 1411.3 L477.9 1406.4 L487.0 1405.4Z" fill="#ffffff"/>
<path d="M487.0 1405.4 L477.9 1406.4 L477.2 1401.6 L478.8 1397.0 L487.5 1399.8Z" fill="#ffffff"/>
<path d="M487.5 1399.8 L478.8 1397.0 L479.8 1392.2 L482.9 1388.6 L490.0 1394.8Z" fill="#ffffff"/>
<path d="M490.0 1394.8 L482.9 1388.6 L485.6 1384.6 L489.8 1382.5 L494.1 1391.2Z" fill="#ffffff"/>
<path d="M494.1 1391.2 L489.8 1382.5 L493.7 1380.0 L498.2 1379.8 L499.1 1389.5Z" fill="#ffffff"/>
<path d="M499.1 1389.5 L498.2 1379.8 L502.8 1379.0 L507.1 1380.7 L504.4 1390.1Z" fill="#ffffff"/>
<path d="M504.4 1390.1 L507.1 1380.7 L511.5 1381.8 L514.9 1385.2 L509.1 1392.7Z" fill="#ffffff"/>
<path d="M509.1 1392.7 L514.9 1385.2 L518.6 1388.1 L520.5 1392.5 L512.5 1397.1Z" fill="#ffffff"/>
<path d="M512.5 1397.1 L520.5 1392.5 L522.9 1396.7 L523.1 1401.6 L514.0 1402.6Z" fill="#e0e0e6"/>
<path d="M514.0 1402.6 L523.1 1401.6 L523.8 1406.4 L522.2 1411.0 L513.5 1408.2Z" fill="#e0e0e6"/>
<path d="M513.5 1408.2 L522.2 1411.0 L521.1 1415.8 L518.1 1419.4 L511.0 1413.2Z" fill="#adadb7"/>
<path d="M511.0 1413.2 L518.1 1419.4 L515.4 1423.4 L511.2 1425.5 L506.9 1416.8Z" fill="#adadb7"/>
<path d="M506.9 1416.8 L511.2 1425.5 L507.3 1428.0 L502.7 1428.2 L501.8 1418.5Z" fill="#e0e0e6"/>
<path d="M500.5 1404.0 L504.7 1418.9 L499.1 1419.5Z" fill="#adadb7"/>
<path d="M500.5 1404.0 L499.1 1419.5 L493.7 1417.7Z" fill="#ffffff"/>
<path d="M500.5 1404.0 L493.7 1417.7 L489.3 1413.9Z" fill="#ffffff"/>
<path d="M500.5 1404.0 L489.3 1413.9 L486.6 1408.5Z" fill="#adadb7"/>
<path d="M500.5 1404.0 L486.6 1408.5 L486.1 1402.5Z" fill="#f1f1f5"/>
<path d="M500.5 1404.0 L486.1 1402.5 L487.7 1396.7Z" fill="#ffffff"/>
<path d="M500.5 1404.0 L487.7 1396.7 L491.3 1392.0Z" fill="#e0e0e6"/>
<path d="M500.5 1404.0 L491.3 1392.0 L496.3 1389.1Z" fill="#f1f1f5"/>
<path d="M500.5 1404.0 L496.3 1389.1 L501.9 1388.5Z" fill="#f1f1f5"/>
<path d="M500.5 1404.0 L501.9 1388.5 L507.3 1390.3Z" fill="#f1f1f5"/>
<path d="M500.5 1404.0 L507.3 1390.3 L511.7 1394.1Z" fill="#ffffff"/>
<path d="M500.5 1404.0 L511.7 1394.1 L514.4 1399.5Z" fill="#ffffff"/>
<path d="M500.5 1404.0 L514.4 1399.5 L514.9 1405.5Z" fill="#e0e0e6"/>
<path d="M500.5 1404.0 L514.9 1405.5 L513.3 1411.3Z" fill="#adadb7"/>
<path d="M500.5 1404.0 L513.3 1411.3 L509.7 1416.0Z" fill="#878792"/>
<path d="M500.5 1404.0 L509.7 1416.0 L504.7 1418.9Z" fill="#e0e0e6"/>
<ellipse cx="449.8" cy="1447.0" rx="23.4" ry="22.6" fill="#c4c4cd"/>
<path d="M436.2 1447.2 L427.1 1447.3 L426.8 1442.9 L428.7 1438.9 L437.2 1442.1Z" fill="#f1f1f5"/>
<path d="M437.2 1442.1 L428.7 1438.9 L430.1 1434.7 L433.5 1431.7 L440.0 1437.9Z" fill="#ffffff"/>
<path d="M440.0 1437.9 L433.5 1431.7 L436.5 1428.4 L440.8 1426.9 L444.4 1435.0Z" fill="#adadb7"/>
<path d="M444.4 1435.0 L440.8 1426.9 L444.9 1424.9 L449.5 1425.1 L449.6 1433.9Z" fill="#e0e0e6"/>
<path d="M449.6 1433.9 L449.5 1425.1 L454.0 1424.8 L458.2 1426.6 L454.8 1434.8Z" fill="#e0e0e6"/>
<path d="M454.8 1434.8 L458.2 1426.6 L462.5 1428.0 L465.6 1431.3 L459.2 1437.6Z" fill="#ffffff"/>
<path d="M459.2 1437.6 L465.6 1431.3 L469.1 1434.2 L470.6 1438.4 L462.2 1441.8Z" fill="#ffffff"/>
<path d="M462.2 1441.8 L470.6 1438.4 L472.7 1442.3 L472.5 1446.7 L463.3 1446.8Z" fill="#f1f1f5"/>
<path d="M463.3 1446.8 L472.5 1446.7 L472.8 1451.1 L470.8 1455.1 L462.4 1451.9Z" fill="#e0e0e6"/>
<path d="M462.4 1451.9 L470.8 1455.1 L469.4 1459.3 L466.0 1462.3 L459.5 1456.1Z" fill="#c9c9d1"/>
<path d="M459.5 1456.1 L466.0 1462.3 L463.0 1465.6 L458.7 1467.1 L455.1 1459.0Z" fill="#e0e0e6"/>
<path d="M455.1 1459.0 L458.7 1467.1 L454.6 1469.1 L450.1 1468.9 L449.9 1460.1Z" fill="#f1f1f5"/>
<path d="M449.9 1460.1 L450.1 1468.9 L445.5 1469.2 L441.3 1467.4 L444.7 1459.2Z" fill="#f1f1f5"/>
<path d="M444.7 1459.2 L441.3 1467.4 L437.0 1466.0 L433.9 1462.7 L440.3 1456.4Z" fill="#c9c9d1"/>
<path d="M440.3 1456.4 L433.9 1462.7 L430.5 1459.8 L428.9 1455.6 L437.3 1452.2Z" fill="#878792"/>
<path d="M437.3 1452.2 L428.9 1455.6 L426.9 1451.7 L427.1 1447.3 L436.2 1447.2Z" fill="#f1f1f5"/>
<path d="M449.8 1447.0 L435.6 1449.9 L435.5 1444.4Z" fill="#ffffff"/>
<path d="M449.8 1447.0 L435.5 1444.4 L437.6 1439.4Z" fill="#e0e0e6"/>
<path d="M449.8 1447.0 L437.6 1439.4 L441.5 1435.5Z" fill="#f1f1f5"/>
<path d="M449.8 1447.0 L441.5 1435.5 L446.8 1433.3Z" fill="#f1f1f5"/>
<path d="M449.8 1447.0 L446.8 1433.3 L452.4 1433.2Z" fill="#ffffff"/>
<path d="M449.8 1447.0 L452.4 1433.2 L457.7 1435.3Z" fill="#f1f1f5"/>
<path d="M449.8 1447.0 L457.7 1435.3 L461.7 1439.1Z" fill="#e0e0e6"/>
<path d="M449.8 1447.0 L461.7 1439.1 L464.0 1444.1Z" fill="#ffffff"/>
<path d="M449.8 1447.0 L464.0 1444.1 L464.0 1449.6Z" fill="#f1f1f5"/>
<path d="M449.8 1447.0 L464.0 1449.6 L461.9 1454.6Z" fill="#adadb7"/>
<path d="M449.8 1447.0 L461.9 1454.6 L458.0 1458.5Z" fill="#e0e0e6"/>
<path d="M449.8 1447.0 L458.0 1458.5 L452.8 1460.7Z" fill="#ffffff"/>
<path d="M449.8 1447.0 L452.8 1460.7 L447.1 1460.8Z" fill="#f1f1f5"/>
<path d="M449.8 1447.0 L447.1 1460.8 L441.9 1458.7Z" fill="#ffffff"/>
<path d="M449.8 1447.0 L441.9 1458.7 L437.8 1454.9Z" fill="#e0e0e6"/>
<path d="M449.8 1447.0 L437.8 1454.9 L435.6 1449.9Z" fill="#e0e0e6"/>
<ellipse cx="501.2" cy="1447.0" rx="23.4" ry="22.6" fill="#c4c4cd"/>
<path d="M511.2 1455.8 L517.9 1461.8 L515.0 1465.2 L510.8 1466.8 L506.9 1458.9Z" fill="#f1f1f5"/>
<path d="M506.9 1458.9 L510.8 1466.8 L506.8 1468.9 L502.2 1468.9 L501.8 1460.1Z" fill="#e0e0e6"/>
<path d="M501.8 1460.1 L502.2 1468.9 L497.7 1469.3 L493.5 1467.6 L496.6 1459.3Z" fill="#e0e0e6"/>
<path d="M496.6 1459.3 L493.5 1467.6 L489.1 1466.3 L485.9 1463.2 L492.0 1456.7Z" fill="#f1f1f5"/>
<path d="M492.0 1456.7 L485.9 1463.2 L482.3 1460.4 L480.6 1456.3 L488.9 1452.6Z" fill="#f1f1f5"/>
<path d="M488.9 1452.6 L480.6 1456.3 L478.4 1452.4 L478.5 1448.0 L487.6 1447.6Z" fill="#f1f1f5"/>
<path d="M487.6 1447.6 L478.5 1448.0 L478.0 1443.6 L479.8 1439.6 L488.4 1442.5Z" fill="#878792"/>
<path d="M488.4 1442.5 L479.8 1439.6 L481.1 1435.3 L484.4 1432.2 L491.1 1438.2Z" fill="#f1f1f5"/>
<path d="M491.1 1438.2 L484.4 1432.2 L487.3 1428.8 L491.5 1427.2 L495.4 1435.1Z" fill="#f1f1f5"/>
<path d="M495.4 1435.1 L491.5 1427.2 L495.5 1425.1 L500.1 1425.1 L500.5 1433.9Z" fill="#f1f1f5"/>
<path d="M500.5 1433.9 L500.1 1425.1 L504.7 1424.7 L508.9 1426.4 L505.8 1434.7Z" fill="#ffffff"/>
<path d="M505.8 1434.7 L508.9 1426.4 L513.3 1427.7 L516.5 1430.8 L510.3 1437.3Z" fill="#f1f1f5"/>
<path d="M510.3 1437.3 L516.5 1430.8 L520.0 1433.6 L521.7 1437.7 L513.4 1441.4Z" fill="#ffffff"/>
<path d="M513.4 1441.4 L521.7 1437.7 L523.9 1441.6 L523.8 1446.0 L514.7 1446.4Z" fill="#f1f1f5"/>
<path d="M514.7 1446.4 L523.8 1446.0 L524.3 1450.4 L522.5 1454.4 L513.9 1451.5Z" fill="#f1f1f5"/>
<path d="M513.9 1451.5 L522.5 1454.4 L521.2 1458.7 L517.9 1461.8 L511.2 1455.8Z" fill="#f1f1f5"/>
<path d="M501.2 1447.0 L513.6 1454.2 L509.8 1458.3Z" fill="#adadb7"/>
<path d="M501.2 1447.0 L509.8 1458.3 L504.6 1460.6Z" fill="#ffffff"/>
<path d="M501.2 1447.0 L504.6 1460.6 L499.0 1460.9Z" fill="#f1f1f5"/>
<path d="M501.2 1447.0 L499.0 1460.9 L493.7 1459.0Z" fill="#e0e0e6"/>
<path d="M501.2 1447.0 L493.7 1459.0 L489.5 1455.3Z" fill="#f1f1f5"/>
<path d="M501.2 1447.0 L489.5 1455.3 L487.1 1450.4Z" fill="#f1f1f5"/>
<path d="M501.2 1447.0 L487.1 1450.4 L486.8 1444.9Z" fill="#e0e0e6"/>
<path d="M501.2 1447.0 L486.8 1444.9 L488.7 1439.8Z" fill="#ffffff"/>
<path d="M501.2 1447.0 L488.7 1439.8 L492.6 1435.7Z" fill="#e0e0e6"/>
<path d="M501.2 1447.0 L492.6 1435.7 L497.7 1433.4Z" fill="#ffffff"/>
<path d="M501.2 1447.0 L497.7 1433.4 L503.3 1433.1Z" fill="#ffffff"/>
<path d="M501.2 1447.0 L503.3 1433.1 L508.7 1435.0Z" fill="#c9c9d1"/>
<path d="M501.2 1447.0 L508.7 1435.0 L512.8 1438.7Z" fill="#878792"/>
<path d="M501.2 1447.0 L512.8 1438.7 L515.2 1443.6Z" fill="#e0e0e6"/>
<path d="M501.2 1447.0 L515.2 1443.6 L515.5 1449.1Z" fill="#ffffff"/>
<path d="M501.2 1447.0 L515.5 1449.1 L513.6 1454.2Z" fill="#f1f1f5"/>
<ellipse cx="450.4" cy="1486.0" rx="23.4" ry="20.6" fill="#c4c4cd"/>
<path d="M456.7 1496.6 L461.0 1503.7 L457.1 1505.7 L452.5 1505.9 L451.6 1497.9Z" fill="#c9c9d1"/>
<path d="M451.6 1497.9 L452.5 1505.9 L448.0 1506.5 L443.7 1505.1 L446.4 1497.4Z" fill="#ffffff"/>
<path d="M446.4 1497.4 L443.7 1505.1 L439.3 1504.1 L435.9 1501.4 L441.7 1495.2Z" fill="#ffffff"/>
<path d="M441.7 1495.2 L435.9 1501.4 L432.2 1499.0 L430.3 1495.3 L438.4 1491.6Z" fill="#e0e0e6"/>
<path d="M438.4 1491.6 L430.3 1495.3 L428.0 1491.9 L427.8 1487.9 L436.9 1487.1Z" fill="#e0e0e6"/>
<path d="M436.9 1487.1 L427.8 1487.9 L427.1 1483.9 L428.7 1480.1 L437.4 1482.5Z" fill="#e0e0e6"/>
<path d="M437.4 1482.5 L428.7 1480.1 L429.8 1476.2 L432.9 1473.3 L439.9 1478.4Z" fill="#f1f1f5"/>
<path d="M439.9 1478.4 L432.9 1473.3 L435.6 1470.0 L439.8 1468.3 L444.0 1475.4Z" fill="#adadb7"/>
<path d="M444.0 1475.4 L439.8 1468.3 L443.7 1466.3 L448.2 1466.1 L449.1 1474.1Z" fill="#f1f1f5"/>
<path d="M449.1 1474.1 L448.2 1466.1 L452.8 1465.5 L457.1 1466.9 L454.4 1474.6Z" fill="#adadb7"/>
<path d="M454.4 1474.6 L457.1 1466.9 L461.5 1467.9 L464.8 1470.6 L459.0 1476.8Z" fill="#f1f1f5"/>
<path d="M459.0 1476.8 L464.8 1470.6 L468.5 1473.0 L470.4 1476.7 L462.4 1480.4Z" fill="#f1f1f5"/>
<path d="M462.4 1480.4 L470.4 1476.7 L472.8 1480.1 L473.0 1484.1 L463.9 1484.9Z" fill="#f1f1f5"/>
<path d="M463.9 1484.9 L473.0 1484.1 L473.7 1488.1 L472.1 1491.9 L463.3 1489.5Z" fill="#e0e0e6"/>
<path d="M463.3 1489.5 L472.1 1491.9 L471.0 1495.8 L467.9 1498.7 L460.8 1493.6Z" fill="#e0e0e6"/>
<path d="M460.8 1493.6 L467.9 1498.7 L465.1 1502.0 L461.0 1503.7 L456.7 1496.6Z" fill="#ffffff"/>
<path d="M450.4 1486.0 L459.5 1495.9 L454.5 1498.2Z" fill="#f1f1f5"/>
<path d="M450.4 1486.0 L454.5 1498.2 L448.9 1498.7Z" fill="#e0e0e6"/>
<path d="M450.4 1486.0 L448.9 1498.7 L443.5 1497.2Z" fill="#f1f1f5"/>
<path d="M450.4 1486.0 L443.5 1497.2 L439.1 1494.1Z" fill="#e0e0e6"/>
<path d="M450.4 1486.0 L439.1 1494.1 L436.5 1489.7Z" fill="#e0e0e6"/>
<path d="M450.4 1486.0 L436.5 1489.7 L435.9 1484.7Z" fill="#e0e0e6"/>
<path d="M450.4 1486.0 L435.9 1484.7 L437.6 1479.9Z" fill="#f1f1f5"/>
<path d="M450.4 1486.0 L437.6 1479.9 L441.2 1476.1Z" fill="#f1f1f5"/>
<path d="M450.4 1486.0 L441.2 1476.1 L446.2 1473.8Z" fill="#ffffff"/>
<path d="M450.4 1486.0 L446.2 1473.8 L451.9 1473.3Z" fill="#c9c9d1"/>
<path d="M450.4 1486.0 L451.9 1473.3 L457.3 1474.8Z" fill="#c9c9d1"/>
<path d="M450.4 1486.0 L457.3 1474.8 L461.6 1477.9Z" fill="#f1f1f5"/>
<path d="M450.4 1486.0 L461.6 1477.9 L464.3 1482.3Z" fill="#adadb7"/>
<path d="M450.4 1486.0 L464.3 1482.3 L464.8 1487.3Z" fill="#adadb7"/>
<path d="M450.4 1486.0 L464.8 1487.3 L463.1 1492.1Z" fill="#ffffff"/>
<path d="M450.4 1486.0 L463.1 1492.1 L459.5 1495.9Z" fill="#c9c9d1"/>
<ellipse cx="501.8" cy="1486.0" rx="23.4" ry="20.6" fill="#c4c4cd"/>
<path d="M502.5 1497.9 L503.0 1506.0 L498.4 1506.4 L494.2 1504.8 L497.2 1497.3Z" fill="#f1f1f5"/>
<path d="M497.2 1497.3 L494.2 1504.8 L489.8 1503.7 L486.6 1500.8 L492.7 1494.9Z" fill="#ffffff"/>
<path d="M492.7 1494.9 L486.6 1500.8 L483.0 1498.3 L481.3 1494.6 L489.5 1491.1Z" fill="#f1f1f5"/>
<path d="M489.5 1491.1 L481.3 1494.6 L479.1 1491.1 L479.1 1487.0 L488.2 1486.6Z" fill="#ffffff"/>
<path d="M488.2 1486.6 L479.1 1487.0 L478.6 1483.0 L480.4 1479.3 L489.0 1482.0Z" fill="#ffffff"/>
<path d="M489.0 1482.0 L480.4 1479.3 L481.7 1475.5 L484.9 1472.6 L491.7 1478.0Z" fill="#ffffff"/>
<path d="M491.7 1478.0 L484.9 1472.6 L487.8 1469.5 L492.0 1468.0 L495.9 1475.2Z" fill="#f1f1f5"/>
<path d="M495.9 1475.2 L492.0 1468.0 L496.0 1466.0 L500.6 1466.0 L501.1 1474.1Z" fill="#ffffff"/>
<path d="M501.1 1474.1 L500.6 1466.0 L505.1 1465.6 L509.4 1467.2 L506.3 1474.7Z" fill="#ffffff"/>
<path d="M506.3 1474.7 L509.4 1467.2 L513.7 1468.3 L517.0 1471.2 L510.9 1477.1Z" fill="#c9c9d1"/>
<path d="M510.9 1477.1 L517.0 1471.2 L520.5 1473.7 L522.3 1477.4 L514.0 1480.9Z" fill="#f1f1f5"/>
<path d="M514.0 1480.9 L522.3 1477.4 L524.5 1480.9 L524.4 1485.0 L515.3 1485.4Z" fill="#f1f1f5"/>
<path d="M515.3 1485.4 L524.4 1485.0 L524.9 1489.0 L523.2 1492.7 L514.6 1490.0Z" fill="#e0e0e6"/>
<path d="M514.6 1490.0 L523.2 1492.7 L521.9 1496.5 L518.6 1499.4 L511.9 1494.0Z" fill="#adadb7"/>
<path d="M511.9 1494.0 L518.6 1499.4 L515.8 1502.5 L511.5 1504.0 L507.6 1496.8Z" fill="#ffffff"/>
<path d="M507.6 1496.8 L511.5 1504.0 L507.5 1506.0 L503.0 1506.0 L502.5 1497.9Z" fill="#ffffff"/>
<path d="M501.8 1486.0 L505.3 1498.4 L499.7 1498.6Z" fill="#c9c9d1"/>
<path d="M501.8 1486.0 L499.7 1498.6 L494.4 1497.0Z" fill="#adadb7"/>
<path d="M501.8 1486.0 L494.4 1497.0 L490.1 1493.6Z" fill="#adadb7"/>
<path d="M501.8 1486.0 L490.1 1493.6 L487.7 1489.1Z" fill="#f1f1f5"/>
<path d="M501.8 1486.0 L487.7 1489.1 L487.4 1484.2Z" fill="#f1f1f5"/>
<path d="M501.8 1486.0 L487.4 1484.2 L489.3 1479.5Z" fill="#ffffff"/>
<path d="M501.8 1486.0 L489.3 1479.5 L493.1 1475.8Z" fill="#adadb7"/>
<path d="M501.8 1486.0 L493.1 1475.8 L498.2 1473.6Z" fill="#e0e0e6"/>
<path d="M501.8 1486.0 L498.2 1473.6 L503.9 1473.4Z" fill="#f1f1f5"/>
<path d="M501.8 1486.0 L503.9 1473.4 L509.2 1475.0Z" fill="#c9c9d1"/>
<path d="M501.8 1486.0 L509.2 1475.0 L513.4 1478.4Z" fill="#ffffff"/>
<path d="M501.8 1486.0 L513.4 1478.4 L515.8 1482.9Z" fill="#f1f1f5"/>
<path d="M501.8 1486.0 L515.8 1482.9 L516.1 1487.8Z" fill="#adadb7"/>
<path d="M501.8 1486.0 L516.1 1487.8 L514.2 1492.5Z" fill="#ffffff"/>
<path d="M501.8 1486.0 L514.2 1492.5 L510.5 1496.2Z" fill="#e0e0e6"/>
<path d="M501.8 1486.0 L510.5 1496.2 L505.3 1498.4Z" fill="#ffffff"/>
<ellipse cx="451.0" cy="1527.0" rx="23.4" ry="21.1" fill="#c4c4cd"/>
<path d="M438.1 1530.8 L429.4 1533.3 L427.8 1529.5 L428.4 1525.4 L437.5 1526.0Z" fill="#c9c9d1"/>
<path d="M437.5 1526.0 L428.4 1525.4 L428.5 1521.3 L430.8 1517.7 L438.9 1521.4Z" fill="#e0e0e6"/>
<path d="M438.9 1521.4 L430.8 1517.7 L432.7 1513.9 L436.3 1511.4 L442.2 1517.7Z" fill="#f1f1f5"/>
<path d="M442.2 1517.7 L436.3 1511.4 L439.6 1508.6 L444.0 1507.5 L446.8 1515.4Z" fill="#ffffff"/>
<path d="M446.8 1515.4 L444.0 1507.5 L448.3 1506.0 L452.8 1506.6 L452.1 1514.8Z" fill="#f1f1f5"/>
<path d="M452.1 1514.8 L452.8 1506.6 L457.4 1506.7 L461.3 1508.8 L457.2 1516.1Z" fill="#f1f1f5"/>
<path d="M457.2 1516.1 L461.3 1508.8 L465.5 1510.4 L468.3 1513.7 L461.3 1519.1Z" fill="#f1f1f5"/>
<path d="M461.3 1519.1 L468.3 1513.7 L471.4 1516.7 L472.6 1520.7 L463.9 1523.2Z" fill="#ffffff"/>
<path d="M463.9 1523.2 L472.6 1520.7 L474.3 1524.5 L473.6 1528.6 L464.5 1528.0Z" fill="#adadb7"/>
<path d="M464.5 1528.0 L473.6 1528.6 L473.5 1532.7 L471.2 1536.3 L463.1 1532.6Z" fill="#f1f1f5"/>
<path d="M463.1 1532.6 L471.2 1536.3 L469.4 1540.1 L465.7 1542.6 L459.8 1536.3Z" fill="#f1f1f5"/>
<path d="M459.8 1536.3 L465.7 1542.6 L462.4 1545.4 L458.0 1546.5 L455.2 1538.6Z" fill="#c9c9d1"/>
<path d="M455.2 1538.6 L458.0 1546.5 L453.7 1548.0 L449.2 1547.4 L449.9 1539.2Z" fill="#c9c9d1"/>
<path d="M449.9 1539.2 L449.2 1547.4 L444.6 1547.3 L440.7 1545.2 L444.8 1537.9Z" fill="#f1f1f5"/>
<path d="M444.8 1537.9 L440.7 1545.2 L436.5 1543.6 L433.7 1540.3 L440.7 1534.9Z" fill="#f1f1f5"/>
<path d="M440.7 1534.9 L433.7 1540.3 L430.6 1537.3 L429.4 1533.3 L438.1 1530.8Z" fill="#c9c9d1"/>
<path d="M451.0 1527.0 L438.4 1533.4 L436.6 1528.5Z" fill="#f1f1f5"/>
<path d="M451.0 1527.0 L436.6 1528.5 L437.1 1523.4Z" fill="#adadb7"/>
<path d="M451.0 1527.0 L437.1 1523.4 L439.6 1518.9Z" fill="#ffffff"/>
<path d="M451.0 1527.0 L439.6 1518.9 L443.9 1515.6Z" fill="#c9c9d1"/>
<path d="M451.0 1527.0 L443.9 1515.6 L449.3 1514.0Z" fill="#f1f1f5"/>
<path d="M451.0 1527.0 L449.3 1514.0 L455.0 1514.4Z" fill="#e0e0e6"/>
<path d="M451.0 1527.0 L455.0 1514.4 L460.0 1516.7Z" fill="#878792"/>
<path d="M451.0 1527.0 L460.0 1516.7 L463.7 1520.6Z" fill="#ffffff"/>
<path d="M451.0 1527.0 L463.7 1520.6 L465.4 1525.5Z" fill="#f1f1f5"/>
<path d="M451.0 1527.0 L465.4 1525.5 L465.0 1530.6Z" fill="#c9c9d1"/>
<path d="M451.0 1527.0 L465.0 1530.6 L462.4 1535.1Z" fill="#e0e0e6"/>
<path d="M451.0 1527.0 L462.4 1535.1 L458.1 1538.4Z" fill="#f1f1f5"/>
<path d="M451.0 1527.0 L458.1 1538.4 L452.7 1540.0Z" fill="#c9c9d1"/>
<path d="M451.0 1527.0 L452.7 1540.0 L447.1 1539.6Z" fill="#e0e0e6"/>
<path d="M451.0 1527.0 L447.1 1539.6 L442.0 1537.3Z" fill="#c9c9d1"/>
<path d="M451.0 1527.0 L442.0 1537.3 L438.4 1533.4Z" fill="#e0e0e6"/>
<ellipse cx="502.4" cy="1527.0" rx="23.4" ry="21.1" fill="#c4c4cd"/>
<path d="M505.6 1538.9 L507.7 1546.9 L503.3 1548.1 L498.8 1547.2 L500.3 1539.1Z" fill="#ffffff"/>
<path d="M500.3 1539.1 L498.8 1547.2 L494.3 1546.8 L490.5 1544.4 L495.3 1537.4Z" fill="#ffffff"/>
<path d="M495.3 1537.4 L490.5 1544.4 L486.5 1542.5 L484.0 1539.0 L491.4 1534.2Z" fill="#ffffff"/>
<path d="M491.4 1534.2 L484.0 1539.0 L481.1 1535.8 L480.3 1531.7 L489.2 1529.8Z" fill="#ffffff"/>
<path d="M489.2 1529.8 L480.3 1531.7 L479.0 1527.8 L480.0 1523.7 L489.0 1525.1Z" fill="#878792"/>
<path d="M489.0 1525.1 L480.0 1523.7 L480.5 1519.6 L483.1 1516.3 L490.9 1520.6Z" fill="#ffffff"/>
<path d="M490.9 1520.6 L483.1 1516.3 L485.3 1512.6 L489.1 1510.4 L494.5 1517.1Z" fill="#e0e0e6"/>
<path d="M494.5 1517.1 L489.1 1510.4 L492.7 1507.8 L497.2 1507.1 L499.3 1515.1Z" fill="#ffffff"/>
<path d="M499.3 1515.1 L497.2 1507.1 L501.6 1505.9 L506.0 1506.8 L504.6 1514.9Z" fill="#adadb7"/>
<path d="M504.6 1514.9 L506.0 1506.8 L510.6 1507.2 L514.3 1509.6 L509.5 1516.6Z" fill="#f1f1f5"/>
<path d="M509.5 1516.6 L514.3 1509.6 L518.3 1511.5 L520.8 1515.0 L513.4 1519.8Z" fill="#ffffff"/>
<path d="M513.4 1519.8 L520.8 1515.0 L523.7 1518.2 L524.5 1522.3 L515.6 1524.2Z" fill="#c9c9d1"/>
<path d="M515.6 1524.2 L524.5 1522.3 L525.8 1526.2 L524.8 1530.3 L515.8 1528.9Z" fill="#c9c9d1"/>
<path d="M515.8 1528.9 L524.8 1530.3 L524.3 1534.4 L521.7 1537.7 L514.0 1533.4Z" fill="#878792"/>
<path d="M514.0 1533.4 L521.7 1537.7 L519.6 1541.4 L515.7 1543.6 L510.4 1536.9Z" fill="#ffffff"/>
<path d="M510.4 1536.9 L515.7 1543.6 L512.2 1546.2 L507.7 1546.9 L505.6 1538.9Z" fill="#f1f1f5"/>
<path d="M502.4 1527.0 L508.5 1538.9 L502.9 1540.1Z" fill="#e0e0e6"/>
<path d="M502.4 1527.0 L502.9 1540.1 L497.4 1539.3Z" fill="#ffffff"/>
<path d="M502.4 1527.0 L497.4 1539.3 L492.5 1536.6Z" fill="#f1f1f5"/>
<path d="M502.4 1527.0 L492.5 1536.6 L489.2 1532.4Z" fill="#e0e0e6"/>
<path d="M502.4 1527.0 L489.2 1532.4 L487.9 1527.5Z" fill="#e0e0e6"/>
<path d="M502.4 1527.0 L487.9 1527.5 L488.8 1522.4Z" fill="#c9c9d1"/>
<path d="M502.4 1527.0 L488.8 1522.4 L491.8 1518.1Z" fill="#e0e0e6"/>
<path d="M502.4 1527.0 L491.8 1518.1 L496.4 1515.1Z" fill="#ffffff"/>
<path d="M502.4 1527.0 L496.4 1515.1 L501.9 1513.9Z" fill="#e0e0e6"/>
<path d="M502.4 1527.0 L501.9 1513.9 L507.5 1514.7Z" fill="#f1f1f5"/>
<path d="M502.4 1527.0 L507.5 1514.7 L512.3 1517.4Z" fill="#ffffff"/>
<path d="M502.4 1527.0 L512.3 1517.4 L515.6 1521.6Z" fill="#ffffff"/>
<path d="M502.4 1527.0 L515.6 1521.6 L516.9 1526.5Z" fill="#e0e0e6"/>
<path d="M502.4 1527.0 L516.9 1526.5 L516.0 1531.6Z" fill="#f1f1f5"/>
<path d="M502.4 1527.0 L516.0 1531.6 L513.0 1535.9Z" fill="#ffffff"/>
<path d="M502.4 1527.0 L513.0 1535.9 L508.5 1538.9Z" fill="#f1f1f5"/>
<ellipse cx="451.6" cy="1566.0" rx="23.4" ry="18.6" fill="#c4c4cd"/>
<path d="M452.6 1576.8 L453.2 1584.0 L448.7 1584.5 L444.4 1583.1 L447.3 1576.2Z" fill="#f1f1f5"/>
<path d="M447.3 1576.2 L444.4 1583.1 L440.0 1582.2 L436.8 1579.6 L442.7 1574.2Z" fill="#f1f1f5"/>
<path d="M442.7 1574.2 L436.8 1579.6 L433.1 1577.4 L431.3 1574.1 L439.5 1570.8Z" fill="#f1f1f5"/>
<path d="M439.5 1570.8 L431.3 1574.1 L429.1 1570.9 L429.0 1567.3 L438.1 1566.8Z" fill="#f1f1f5"/>
<path d="M438.1 1566.8 L429.0 1567.3 L428.4 1563.7 L430.1 1560.3 L438.7 1562.6Z" fill="#878792"/>
<path d="M438.7 1562.6 L430.1 1560.3 L431.3 1556.8 L434.5 1554.2 L441.4 1558.9Z" fill="#adadb7"/>
<path d="M441.4 1558.9 L434.5 1554.2 L437.3 1551.3 L441.5 1549.9 L445.6 1556.4Z" fill="#ffffff"/>
<path d="M445.6 1556.4 L441.5 1549.9 L445.4 1548.1 L450.0 1548.0 L450.7 1555.2Z" fill="#c9c9d1"/>
<path d="M450.7 1555.2 L450.0 1548.0 L454.5 1547.5 L458.8 1548.9 L455.9 1555.8Z" fill="#f1f1f5"/>
<path d="M455.9 1555.8 L458.8 1548.9 L463.2 1549.8 L466.5 1552.4 L460.5 1557.8Z" fill="#adadb7"/>
<path d="M460.5 1557.8 L466.5 1552.4 L470.1 1554.6 L471.9 1557.9 L463.8 1561.2Z" fill="#ffffff"/>
<path d="M463.8 1561.2 L471.9 1557.9 L474.2 1561.1 L474.3 1564.7 L465.2 1565.2Z" fill="#f1f1f5"/>
<path d="M465.2 1565.2 L474.3 1564.7 L474.8 1568.3 L473.2 1571.7 L464.5 1569.4Z" fill="#adadb7"/>
<path d="M464.5 1569.4 L473.2 1571.7 L472.0 1575.2 L468.8 1577.8 L461.9 1573.1Z" fill="#e0e0e6"/>
<path d="M461.9 1573.1 L468.8 1577.8 L466.0 1580.7 L461.8 1582.1 L457.7 1575.6Z" fill="#e0e0e6"/>
<path d="M457.7 1575.6 L461.8 1582.1 L457.8 1583.9 L453.2 1584.0 L452.6 1576.8Z" fill="#ffffff"/>
<path d="M451.6 1566.0 L455.5 1577.1 L449.8 1577.4Z" fill="#ffffff"/>
<path d="M451.6 1566.0 L449.8 1577.4 L444.4 1576.0Z" fill="#adadb7"/>
<path d="M451.6 1566.0 L444.4 1576.0 L440.2 1573.1Z" fill="#ffffff"/>
<path d="M451.6 1566.0 L440.2 1573.1 L437.6 1569.0Z" fill="#ffffff"/>
<path d="M451.6 1566.0 L437.6 1569.0 L437.2 1564.6Z" fill="#f1f1f5"/>
<path d="M451.6 1566.0 L437.2 1564.6 L439.0 1560.3Z" fill="#c9c9d1"/>
<path d="M451.6 1566.0 L439.0 1560.3 L442.7 1556.9Z" fill="#e0e0e6"/>
<path d="M451.6 1566.0 L442.7 1556.9 L447.8 1554.9Z" fill="#878792"/>
<path d="M451.6 1566.0 L447.8 1554.9 L453.4 1554.6Z" fill="#c9c9d1"/>
<path d="M451.6 1566.0 L453.4 1554.6 L458.8 1556.0Z" fill="#f1f1f5"/>
<path d="M451.6 1566.0 L458.8 1556.0 L463.1 1558.9Z" fill="#adadb7"/>
<path d="M451.6 1566.0 L463.1 1558.9 L465.6 1563.0Z" fill="#f1f1f5"/>
<path d="M451.6 1566.0 L465.6 1563.0 L466.0 1567.4Z" fill="#ffffff"/>
<path d="M451.6 1566.0 L466.0 1567.4 L464.2 1571.7Z" fill="#adadb7"/>
<path d="M451.6 1566.0 L464.2 1571.7 L460.5 1575.1Z" fill="#c9c9d1"/>
<path d="M451.6 1566.0 L460.5 1575.1 L455.5 1577.1Z" fill="#e0e0e6"/>
<ellipse cx="503.0" cy="1566.0" rx="23.4" ry="18.6" fill="#c4c4cd"/>
<path d="M501.2 1576.7 L500.0 1583.9 L495.4 1583.6 L491.6 1581.6 L496.2 1575.3Z" fill="#ffffff"/>
<path d="M496.2 1575.3 L491.6 1581.6 L487.5 1580.0 L485.0 1576.9 L492.2 1572.5Z" fill="#ffffff"/>
<path d="M492.2 1572.5 L485.0 1576.9 L482.0 1574.2 L481.1 1570.6 L489.9 1568.8Z" fill="#ffffff"/>
<path d="M489.9 1568.8 L481.1 1570.6 L479.7 1567.2 L480.5 1563.6 L489.6 1564.6Z" fill="#ffffff"/>
<path d="M489.6 1564.6 L480.5 1563.6 L480.9 1560.0 L483.4 1556.9 L491.3 1560.6Z" fill="#f1f1f5"/>
<path d="M491.3 1560.6 L483.4 1556.9 L485.5 1553.7 L489.3 1551.7 L494.8 1557.4Z" fill="#c9c9d1"/>
<path d="M494.8 1557.4 L489.3 1551.7 L492.7 1549.3 L497.2 1548.6 L499.5 1555.6Z" fill="#adadb7"/>
<path d="M499.5 1555.6 L497.2 1548.6 L501.6 1547.4 L506.0 1548.1 L504.8 1555.3Z" fill="#f1f1f5"/>
<path d="M504.8 1555.3 L506.0 1548.1 L510.6 1548.4 L514.4 1550.4 L509.8 1556.7Z" fill="#e0e0e6"/>
<path d="M509.8 1556.7 L514.4 1550.4 L518.5 1552.0 L521.1 1555.1 L513.8 1559.5Z" fill="#f1f1f5"/>
<path d="M513.8 1559.5 L521.1 1555.1 L524.0 1557.8 L525.0 1561.4 L516.1 1563.2Z" fill="#c9c9d1"/>
<path d="M516.1 1563.2 L525.0 1561.4 L526.4 1564.8 L525.5 1568.4 L516.5 1567.4Z" fill="#e0e0e6"/>
<path d="M516.5 1567.4 L525.5 1568.4 L525.2 1572.0 L522.7 1575.1 L514.8 1571.4Z" fill="#878792"/>
<path d="M514.8 1571.4 L522.7 1575.1 L520.6 1578.3 L516.8 1580.3 L511.3 1574.6Z" fill="#c9c9d1"/>
<path d="M511.3 1574.6 L516.8 1580.3 L513.3 1582.7 L508.8 1583.4 L506.5 1576.4Z" fill="#e0e0e6"/>
<path d="M506.5 1576.4 L508.8 1583.4 L504.5 1584.6 L500.0 1583.9 L501.2 1576.7Z" fill="#e0e0e6"/>
<path d="M503.0 1566.0 L503.9 1577.5 L498.3 1576.9Z" fill="#ffffff"/>
<path d="M503.0 1566.0 L498.3 1576.9 L493.4 1574.6Z" fill="#f1f1f5"/>
<path d="M503.0 1566.0 L493.4 1574.6 L490.0 1571.1Z" fill="#f1f1f5"/>
<path d="M503.0 1566.0 L490.0 1571.1 L488.5 1566.7Z" fill="#ffffff"/>
<path d="M503.0 1566.0 L488.5 1566.7 L489.3 1562.3Z" fill="#ffffff"/>
<path d="M503.0 1566.0 L489.3 1562.3 L492.1 1558.4Z" fill="#f1f1f5"/>
<path d="M503.0 1566.0 L492.1 1558.4 L496.6 1555.6Z" fill="#ffffff"/>
<path d="M503.0 1566.0 L496.6 1555.6 L502.1 1554.5Z" fill="#e0e0e6"/>
<path d="M503.0 1566.0 L502.1 1554.5 L507.7 1555.1Z" fill="#f1f1f5"/>
<path d="M503.0 1566.0 L507.7 1555.1 L512.6 1557.4Z" fill="#878792"/>
<path d="M503.0 1566.0 L512.6 1557.4 L516.1 1560.9Z" fill="#e0e0e6"/>
<path d="M503.0 1566.0 L516.1 1560.9 L517.5 1565.3Z" fill="#f1f1f5"/>
<path d="M503.0 1566.0 L517.5 1565.3 L516.8 1569.7Z" fill="#f1f1f5"/>
<path d="M503.0 1566.0 L516.8 1569.7 L513.9 1573.6Z" fill="#f1f1f5"/>
<path d="M503.0 1566.0 L513.9 1573.6 L509.4 1576.4Z" fill="#ffffff"/>
<path d="M503.0 1566.0 L509.4 1576.4 L503.9 1577.5Z" fill="#adadb7"/>
</g>
<g filter="url(#pblur2)" fill="#7e7e89">
<circle cx="425.5" cy="1262.0" r="3.0"/>
<circle cx="468.0" cy="1262.0" r="2.4"/>
<circle cx="477.0" cy="1262.0" r="2.4"/>
<circle cx="520.0" cy="1262.0" r="3.0"/>
<circle cx="426.0" cy="1294.0" r="3.0"/>
<circle cx="468.5" cy="1294.0" r="2.4"/>
<circle cx="477.5" cy="1294.0" r="2.4"/>
<circle cx="520.5" cy="1294.0" r="3.0"/>
<circle cx="426.6" cy="1331.2" r="3.0"/>
<circle cx="469.1" cy="1331.2" r="2.4"/>
<circle cx="478.1" cy="1331.2" r="2.4"/>
<circle cx="521.1" cy="1331.2" r="3.0"/>
<circle cx="427.3" cy="1379.0" r="3.0"/>
<circle cx="469.8" cy="1379.0" r="2.4"/>
<circle cx="478.8" cy="1379.0" r="2.4"/>
<circle cx="521.8" cy="1379.0" r="3.0"/>
<circle cx="428.0" cy="1426.8" r="3.0"/>
<circle cx="470.5" cy="1426.8" r="2.4"/>
<circle cx="479.5" cy="1426.8" r="2.4"/>
<circle cx="522.5" cy="1426.8" r="3.0"/>
<circle cx="428.7" cy="1467.5" r="3.0"/>
<circle cx="471.2" cy="1467.5" r="2.4"/>
<circle cx="480.2" cy="1467.5" r="2.4"/>
<circle cx="523.2" cy="1467.5" r="3.0"/>
<circle cx="429.3" cy="1506.2" r="3.0"/>
<circle cx="471.8" cy="1506.2" r="2.4"/>
<circle cx="480.8" cy="1506.2" r="2.4"/>
<circle cx="523.8" cy="1506.2" r="3.0"/>
<circle cx="429.9" cy="1547.8" r="3.0"/>
<circle cx="472.4" cy="1547.8" r="2.4"/>
<circle cx="481.4" cy="1547.8" r="2.4"/>
<circle cx="524.4" cy="1547.8" r="3.0"/>
</g>
<path d="M 422.6 1240 Q 422.8 1234.6 428 1233.6 Q 472 1230.2 513 1232.4 Q 519 1233 519.4 1239 Q 522.4 1330 524.4 1420 Q 524.8 1520 523.6 1578 Q 523.2 1583.4 518 1584.6 Q 478 1593.6 436 1588.4 Q 428 1587.4 427.2 1582 Q 425.6 1420 422.6 1240 Z" fill="url(#pshade)"/>
<g filter="url(#pblur)">
<path d="M 471.0 1231 L 472.2 1300 L 477.6 1592" stroke="#94949e" stroke-width="3.2" fill="none"/>
<path d="M 471.0 1231 L 471.9 1285" stroke="#74747e" stroke-width="2.2" fill="none"/>
<path d="M 472.6 1320 L 477.6 1592" stroke="#dedee4" stroke-width="1.3" fill="none"/>
</g>
</g>
<g filter="url(#pblur)" fill="none">
<path d="M 424 1234.4 Q 472 1230.6 518 1233.0" stroke="#a9a9b3" stroke-width="1.5"/>
<path d="M 429 1587.8 Q 478 1593.6 520 1584.2" stroke="#b1b1ba" stroke-width="1.3"/>
</g>
</g>
<path d="M 421.3 1242 Q 421.2 1234.4 427 1231.8 C 445 1222.5 500 1222.5 514 1229.6 Q 520 1231 520.5 1239 Q 523.5 1330 525.6 1420 Q 526.0 1520 524.8 1580 Q 524.4 1589 518 1591.5 C 500 1598.6 455 1598.6 436 1595 Q 427 1594 425.8 1585 Q 424.4 1420 421.3 1242 Z" fill="none" stroke="#cdcdd4" stroke-width="1.0" filter="url(#pblur)"/>
</svg></body></html>
